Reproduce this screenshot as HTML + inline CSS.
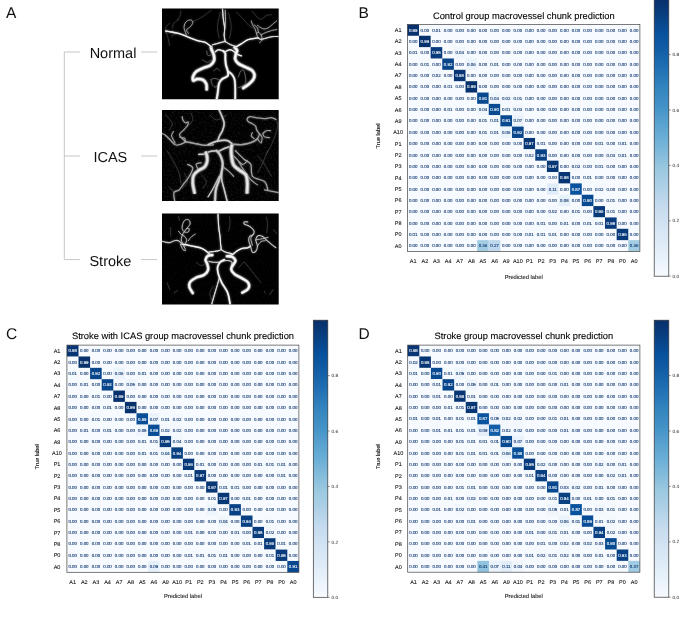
<!DOCTYPE html>
<html lang="en"><head><meta charset="utf-8"><title>Macrovessel chunk prediction</title>
<style>html,body{margin:0;padding:0;background:#fff}body{width:685px;height:644px;overflow:hidden}svg{display:block;text-rendering:geometricPrecision}</style></head>
<body>
<svg width="685" height="644" viewBox="0 0 685 644" font-family="'Liberation Sans', Arial, sans-serif">
<defs><linearGradient id="blues" x1="0" y1="0" x2="0" y2="1"><stop offset="0" stop-color="#08306b"/><stop offset="0.03" stop-color="#083776"/><stop offset="0.06" stop-color="#084082"/><stop offset="0.09" stop-color="#08488e"/><stop offset="0.12" stop-color="#08509b"/><stop offset="0.16" stop-color="#0e58a2"/><stop offset="0.19" stop-color="#1460a8"/><stop offset="0.22" stop-color="#1a68ae"/><stop offset="0.25" stop-color="#2070b4"/><stop offset="0.28" stop-color="#2979b9"/><stop offset="0.31" stop-color="#3181bd"/><stop offset="0.34" stop-color="#3989c1"/><stop offset="0.38" stop-color="#4191c6"/><stop offset="0.41" stop-color="#4b98ca"/><stop offset="0.44" stop-color="#56a0ce"/><stop offset="0.47" stop-color="#60a7d2"/><stop offset="0.5" stop-color="#6aaed6"/><stop offset="0.53" stop-color="#77b5d9"/><stop offset="0.56" stop-color="#84bcdb"/><stop offset="0.59" stop-color="#91c3de"/><stop offset="0.62" stop-color="#9dcae1"/><stop offset="0.66" stop-color="#a8cee4"/><stop offset="0.69" stop-color="#b2d2e8"/><stop offset="0.72" stop-color="#bcd7eb"/><stop offset="0.75" stop-color="#c6dbef"/><stop offset="0.78" stop-color="#ccdff1"/><stop offset="0.81" stop-color="#d2e3f3"/><stop offset="0.84" stop-color="#d8e7f5"/><stop offset="0.88" stop-color="#deebf7"/><stop offset="0.91" stop-color="#e4eff9"/><stop offset="0.94" stop-color="#eaf3fb"/><stop offset="0.97" stop-color="#f1f7fd"/><stop offset="1" stop-color="#f7fbff"/></linearGradient><filter id="bl" x="-5%" y="-5%" width="110%" height="110%"><feGaussianBlur stdDeviation="0.5"/></filter><filter id="bl2" x="-5%" y="-5%" width="110%" height="110%"><feGaussianBlur stdDeviation="0.8"/></filter></defs>
<rect width="685" height="644" fill="#fff"/>
<g id="panelA">
<text x="6" y="18" font-size="15.5" fill="#111">A</text>
<path d="M80 52H64.3V259.6H80M64.3 156H80M141 52h16M141 156h16M141 259.6h16" fill="none" stroke="#b8b8b8" stroke-width="0.8"/>
<g font-size="14.5" fill="#111" text-anchor="middle"><text x="113" y="58.2">Normal</text><text x="110.3" y="162.2">ICAS</text><text x="110.4" y="265.8">Stroke</text></g>
<clipPath id="cpA"><path d="M162 8.5h116.7v90.7h-116.7zM162 109.9h116.7v91.1h-116.7zM162 213.5h116.7v91.1h-116.7z"/></clipPath><path d="M162 8.5h116.7v90.7h-116.7zM162 109.9h116.7v91.1h-116.7zM162 213.5h116.7v91.1h-116.7z" fill="#000"/><filter id="nz" x="0" y="0" width="100%" height="100%"><feTurbulence type="fractalNoise" baseFrequency="0.55" numOctaves="2" seed="7"/><feColorMatrix type="matrix" values="0 0 0 0 1  0 0 0 0 1  0 0 0 0 1  1.6 0 0 0 -0.72"/></filter><rect x="162" y="109.9" width="116.7" height="91.1" filter="url(#nz)" opacity="0.13"/><rect x="162" y="213.5" width="116.7" height="91.1" filter="url(#nz)" opacity="0.05"/><g clip-path="url(#cpA)"><use href="#vs" filter="url(#bl2)" opacity="0.55"/><g id="vs" fill="none" stroke-linecap="round" stroke-linejoin="round" filter="url(#bl)"><g transform="translate(180 30) scale(0.12407)"><g stroke="#8a8a8a"><path d="M250 400C252 407 253 430 260 440C267 450 280 465 290 460C300 455 322 422 320 410C318 398 292 392 280 390C268 388 255 398 250 400M470 380C473 372 482 338 490 330C498 322 508 318 515 330C522 342 529 382 530 400C531 418 530 429 520 440C510 451 478 461 470 465M215 170C217 176 219 200 225 205C231 210 246 201 250 200" stroke-width="5"/><path d="M180 240C187 243 208 260 220 260C232 260 245 243 250 240M270 330C275 327 292 310 300 310C308 310 317 327 320 330" stroke-width="4"/></g><g stroke="#9a9a9a"><path d="M215 478C214 471 217 448 212 435C207 422 197 409 185 402C173 395 153 394 140 395C127 396 114 411 108 408C102 405 101 387 105 375C109 363 116 347 130 335C144 323 171 313 190 305C209 297 231 295 245 285C259 275 270 259 275 245C280 231 275 214 272 200C269 186 259 170 255 160C251 150 251 143 250 140M510 468C517 463 537 451 550 440C563 429 582 413 590 400C598 387 602 372 600 360C598 348 592 335 580 325C568 315 548 309 530 300C512 291 484 281 470 270C456 259 448 248 445 235C442 222 448 207 450 195C452 183 462 174 460 165C458 156 443 144 440 140" stroke-width="29"/><path d="M295 560C297 550 302 522 305 500C308 478 309 448 315 430C321 412 328 405 340 395C352 385 378 381 385 370C392 359 388 345 385 330C382 315 373 297 370 280C367 263 366 245 365 230C364 215 368 200 365 190C362 180 352 173 350 170" stroke-width="20"/><path d="M445 560C445 545 446 497 445 470C444 443 444 418 440 400C436 382 428 371 420 360C412 349 395 339 390 335" stroke-width="18"/><path d="M350 170C343 168 321 159 310 160C299 161 289 172 285 175M365 175C371 172 389 161 400 160C411 159 418 163 430 170C442 177 459 194 470 200C481 206 491 207 495 208" stroke-width="12"/></g><g stroke="#e8e8e8"><path d="M215 478C214 471 217 448 212 435C207 422 197 409 185 402C173 395 153 394 140 395C127 396 114 411 108 408C102 405 101 387 105 375C109 363 116 347 130 335C144 323 171 313 190 305C209 297 231 295 245 285C259 275 270 259 275 245C280 231 275 214 272 200C269 186 259 170 255 160C251 150 251 143 250 140M510 468C517 463 537 451 550 440C563 429 582 413 590 400C598 387 602 372 600 360C598 348 592 335 580 325C568 315 548 309 530 300C512 291 484 281 470 270C456 259 448 248 445 235C442 222 448 207 450 195C452 183 462 174 460 165C458 156 443 144 440 140" stroke-width="19.7"/><path d="M295 560C297 550 302 522 305 500C308 478 309 448 315 430C321 412 328 405 340 395C352 385 378 381 385 370C392 359 388 345 385 330C382 315 373 297 370 280C367 263 366 245 365 230C364 215 368 200 365 190C362 180 352 173 350 170" stroke-width="13.6"/><path d="M445 560C445 545 446 497 445 470C444 443 444 418 440 400C436 382 428 371 420 360C412 349 395 339 390 335" stroke-width="12.2"/><path d="M350 170C343 168 321 159 310 160C299 161 289 172 285 175M365 175C371 172 389 161 400 160C411 159 418 163 430 170C442 177 459 194 470 200C481 206 491 207 495 208" stroke-width="8.2"/></g><g stroke="#fff"><path d="M215 478C214 471 217 448 212 435C207 422 197 409 185 402C173 395 153 394 140 395C127 396 114 411 108 408C102 405 101 387 105 375C109 363 116 347 130 335C144 323 171 313 190 305C209 297 231 295 245 285C259 275 270 259 275 245C280 231 275 214 272 200C269 186 259 170 255 160C251 150 251 143 250 140M510 468C517 463 537 451 550 440C563 429 582 413 590 400C598 387 602 372 600 360C598 348 592 335 580 325C568 315 548 309 530 300C512 291 484 281 470 270C456 259 448 248 445 235C442 222 448 207 450 195C452 183 462 174 460 165C458 156 443 144 440 140" stroke-width="8.7"/><path d="M295 560C297 550 302 522 305 500C308 478 309 448 315 430C321 412 328 405 340 395C352 385 378 381 385 370C392 359 388 345 385 330C382 315 373 297 370 280C367 263 366 245 365 230C364 215 368 200 365 190C362 180 352 173 350 170" stroke-width="6"/><path d="M445 560C445 545 446 497 445 470C444 443 444 418 440 400C436 382 428 371 420 360C412 349 395 339 390 335" stroke-width="5.4"/><path d="M350 170C343 168 321 159 310 160C299 161 289 172 285 175M365 175C371 172 389 161 400 160C411 159 418 163 430 170C442 177 459 194 470 200C481 206 491 207 495 208" stroke-width="3.6"/></g></g><g transform="translate(162 6) scale(0.17079)"><g stroke="#6a6a6a"><path d="M180 92C187 89 210 79 222 72C234 65 244 58 255 50C266 42 282 29 288 25M22 147C24 152 29 164 33 178C37 192 42 224 44 233M60 153C62 155 73 163 72 167C71 171 58 176 55 178M44 100C40 105 25 118 22 128C19 138 24 155 25 160M100 80C95 83 77 92 70 100C63 108 62 125 60 130M436 36C442 42 460 59 472 72C484 85 498 104 508 113C518 122 526 126 529 128M529 31C534 37 550 59 559 67C568 75 571 79 580 77C589 75 601 60 611 56C621 52 636 52 641 51M340 40C338 53 326 95 325 120C324 145 333 178 335 190M390 40C392 53 404 95 405 120C406 145 397 178 395 190M110 30C109 35 108 52 105 60C102 68 92 77 90 80" stroke-width="2.5"/></g><g stroke="#b8b8b8"><path d="M144 172C142 166 132 144 130 133C128 122 130 113 133 105C136 97 142 90 149 86C156 82 167 81 172 83C177 85 181 90 180 97C179 104 172 115 166 122C160 129 146 132 144 139C142 146 153 157 155 161M564 187C562 183 554 170 554 164C554 158 560 153 564 154C568 155 576 161 580 169C584 177 587 192 585 200C583 208 572 212 570 215M554 164C552 159 548 142 544 133C540 124 532 116 529 108C526 100 524 90 523 87M564 154C563 150 563 135 559 128C555 121 542 113 539 110M580 169C585 166 601 158 611 154C621 150 631 147 641 144C651 141 667 139 672 138M559 113C564 116 580 130 590 133C600 136 611 133 621 128C631 123 644 110 652 103C660 96 669 90 672 87" stroke-width="5"/><path d="M370 25C370 34 372 60 372 77C372 94 370 120 370 128" stroke-width="5.5"/></g><g stroke="#9a9a9a"><path d="M290 240C284 236 267 220 255 214C243 208 229 209 216 205C203 201 189 196 177 192C165 188 157 183 144 178C131 173 113 165 99 161C85 157 73 155 60 153C47 151 28 148 22 147M432 240C438 237 455 227 467 220C479 213 491 202 503 197C515 192 529 192 539 190C549 188 560 188 564 187" stroke-width="9"/><path d="M564 187C567 188 570 195 580 195C590 195 609 188 621 185C633 182 642 180 652 179C662 178 677 179 682 179" stroke-width="6"/><path d="M296 227C301 226 317 222 327 219C337 216 348 213 355 211C362 209 368 208 370 208M370 208C375 211 389 221 400 226C411 231 430 236 436 238M354 15C355 25 357 58 359 77C361 96 366 113 367 128C368 143 364 156 364 169C364 182 369 202 370 208" stroke-width="6.5"/></g><g stroke="#f0f0f0"><path d="M290 240C284 236 267 220 255 214C243 208 229 209 216 205C203 201 189 196 177 192C165 188 157 183 144 178C131 173 113 165 99 161C85 157 73 155 60 153C47 151 28 148 22 147M432 240C438 237 455 227 467 220C479 213 491 202 503 197C515 192 529 192 539 190C549 188 560 188 564 187" stroke-width="6.1"/><path d="M564 187C567 188 570 195 580 195C590 195 609 188 621 185C633 182 642 180 652 179C662 178 677 179 682 179" stroke-width="4.1"/><path d="M296 227C301 226 317 222 327 219C337 216 348 213 355 211C362 209 368 208 370 208M370 208C375 211 389 221 400 226C411 231 430 236 436 238M354 15C355 25 357 58 359 77C361 96 366 113 367 128C368 143 364 156 364 169C364 182 369 202 370 208" stroke-width="4.4"/></g><g stroke="#fff"><path d="M290 240C284 236 267 220 255 214C243 208 229 209 216 205C203 201 189 196 177 192C165 188 157 183 144 178C131 173 113 165 99 161C85 157 73 155 60 153C47 151 28 148 22 147M432 240C438 237 455 227 467 220C479 213 491 202 503 197C515 192 529 192 539 190C549 188 560 188 564 187" stroke-width="2.7"/><path d="M564 187C567 188 570 195 580 195C590 195 609 188 621 185C633 182 642 180 652 179C662 178 677 179 682 179" stroke-width="1.8"/><path d="M296 227C301 226 317 222 327 219C337 216 348 213 355 211C362 209 368 208 370 208M370 208C375 211 389 221 400 226C411 231 430 236 436 238M354 15C355 25 357 58 359 77C361 96 366 113 367 128C368 143 364 156 364 169C364 182 369 202 370 208" stroke-width="1.9"/></g></g><g transform="translate(162 108) scale(0.17079)"><g stroke="#5a5a5a"><path d="M30 250C35 258 48 278 60 300C72 322 92 357 100 380C108 403 108 430 110 440M620 250C615 262 600 298 590 320C580 342 565 370 560 380M667 67C669 75 681 88 677 113C673 138 652 189 641 215C630 241 616 258 611 267M280 40C287 45 303 70 320 70C337 70 370 45 380 40M230 390C235 397 258 417 260 430C262 443 243 463 240 470M20 40C27 48 57 75 60 90C63 105 43 123 40 130M170 30C172 37 183 57 180 70C177 83 155 103 150 110M130 380C133 388 152 415 150 430C148 445 125 463 120 470M40 460L70 495M560 280C567 288 587 310 600 330C613 350 633 388 640 400" stroke-width="3"/></g><g stroke="#a0a0a0"><path d="M300 215C291 216 262 219 246 218C230 217 218 212 205 210C192 208 181 205 169 203C157 201 139 198 133 197M410 212C419 212 446 216 462 215C478 214 490 211 503 208C516 205 530 200 539 195C548 190 556 182 559 179" stroke-width="9.5"/><path d="M138 200C132 202 113 212 103 215C93 218 86 219 77 215C68 211 60 199 51 190C42 181 28 166 20 159C12 152 3 151 0 149M559 179C561 175 571 162 570 154C569 146 558 136 554 128C550 120 553 114 549 108C545 102 536 96 529 92C522 88 513 86 508 82C503 78 497 72 498 67C499 62 504 53 513 51C522 49 534 54 549 56C564 58 585 62 600 62C615 62 630 55 641 56C652 57 663 65 667 67M430 250C438 258 465 287 480 300C495 313 512 313 520 330C528 347 517 383 530 400C543 417 585 417 600 430C615 443 617 472 620 480M600 480L690 497M150 330C155 333 178 338 180 350C182 362 168 385 160 400C152 415 140 427 130 440C120 453 110 471 100 480C90 489 74 483 70 495C66 507 74 541 75 550" stroke-width="7.5"/><path d="M138 195C134 192 119 181 113 174C107 167 100 162 103 154C106 146 120 136 128 128C136 120 145 111 149 103C153 95 156 85 154 82C152 79 143 89 138 87C133 85 126 78 123 72C120 66 119 54 118 51" stroke-width="7"/><path d="M138 195C137 192 136 180 133 177C130 174 125 175 120 174C115 173 106 171 103 170M67 138C65 142 54 153 56 164C58 175 74 198 77 205M559 179C562 183 576 207 580 205C584 203 587 178 585 169C583 160 572 152 570 149M529 144C528 147 521 158 523 164C525 170 536 176 539 179M590 149C594 146 603 136 611 133C619 130 632 133 636 133M590 149C592 152 593 165 600 169C607 173 626 173 631 174M350 340C357 345 378 360 390 370C402 380 415 395 420 400M420 280C428 288 457 325 470 330C483 335 495 313 500 310M215 365C212 359 198 338 200 330C202 322 225 322 230 320M440 300C445 308 457 330 470 350C483 370 505 403 520 420C535 437 553 445 560 450" stroke-width="6.5"/></g><g stroke="#808080"><path d="M310 560C311 547 311 503 315 480C319 457 329 438 335 420C341 402 347 387 350 370C353 353 357 336 355 320C353 304 346 287 340 275C334 263 323 254 320 250" stroke-width="16"/><path d="M215 272L265 270M320 250C313 251 292 252 280 255C268 258 255 268 250 270M330 255C337 252 358 240 370 235C382 230 395 227 400 225M385 560C382 547 371 503 365 480C359 457 352 437 350 420C348 403 350 387 350 380" stroke-width="10"/><path d="M270 520C275 512 289 490 300 470C311 450 329 412 335 400" stroke-width="8"/><path d="M270 215C278 212 302 199 320 195C338 191 365 188 380 190C395 192 405 207 410 210" stroke-width="12"/><path d="M334 10C337 18 349 42 354 56C359 70 364 79 364 92C364 105 358 122 354 133C350 144 344 149 339 159C334 169 327 189 325 195" stroke-width="11"/></g><g stroke="#c0c0c0"><path d="M310 560C311 547 311 503 315 480C319 457 329 438 335 420C341 402 347 387 350 370C353 353 357 336 355 320C353 304 346 287 340 275C334 263 323 254 320 250" stroke-width="10.9"/><path d="M215 272L265 270M320 250C313 251 292 252 280 255C268 258 255 268 250 270M330 255C337 252 358 240 370 235C382 230 395 227 400 225M385 560C382 547 371 503 365 480C359 457 352 437 350 420C348 403 350 387 350 380" stroke-width="6.8"/><path d="M270 520C275 512 289 490 300 470C311 450 329 412 335 400" stroke-width="5.4"/><path d="M270 215C278 212 302 199 320 195C338 191 365 188 380 190C395 192 405 207 410 210" stroke-width="8.2"/><path d="M334 10C337 18 349 42 354 56C359 70 364 79 364 92C364 105 358 122 354 133C350 144 344 149 339 159C334 169 327 189 325 195" stroke-width="7.5"/></g><g stroke="#d8d8d8"><path d="M310 560C311 547 311 503 315 480C319 457 329 438 335 420C341 402 347 387 350 370C353 353 357 336 355 320C353 304 346 287 340 275C334 263 323 254 320 250" stroke-width="4.8"/><path d="M215 272L265 270M320 250C313 251 292 252 280 255C268 258 255 268 250 270M330 255C337 252 358 240 370 235C382 230 395 227 400 225M385 560C382 547 371 503 365 480C359 457 352 437 350 420C348 403 350 387 350 380" stroke-width="3"/><path d="M270 520C275 512 289 490 300 470C311 450 329 412 335 400" stroke-width="2.4"/><path d="M270 215C278 212 302 199 320 195C338 191 365 188 380 190C395 192 405 207 410 210" stroke-width="3.6"/><path d="M334 10C337 18 349 42 354 56C359 70 364 79 364 92C364 105 358 122 354 133C350 144 344 149 339 159C334 169 327 189 325 195" stroke-width="3.3"/></g><g stroke="#888" stroke-linecap="butt"><path d="M192 502C190 492 181 458 180 440C179 422 179 408 185 395C191 382 204 373 215 365C226 357 242 354 250 345C258 336 263 322 265 310C267 298 264 284 262 275C260 266 256 258 255 255" stroke-width="23"/><path d="M498 500C498 490 501 458 500 440C499 422 498 402 490 390C482 378 467 374 455 365C443 356 428 348 420 335C412 322 410 306 408 290C406 274 405 252 405 240C405 228 409 219 410 215" stroke-width="25"/></g><g stroke="#cfcfcf" stroke-linecap="butt"><path d="M192 502C190 492 181 458 180 440C179 422 179 408 185 395C191 382 204 373 215 365C226 357 242 354 250 345C258 336 263 322 265 310C267 298 264 284 262 275C260 266 256 258 255 255" stroke-width="15.6"/><path d="M498 500C498 490 501 458 500 440C499 422 498 402 490 390C482 378 467 374 455 365C443 356 428 348 420 335C412 322 410 306 408 290C406 274 405 252 405 240C405 228 409 219 410 215" stroke-width="17"/></g><g stroke="#eee" stroke-linecap="butt"><path d="M192 502C190 492 181 458 180 440C179 422 179 408 185 395C191 382 204 373 215 365C226 357 242 354 250 345C258 336 263 322 265 310C267 298 264 284 262 275C260 266 256 258 255 255" stroke-width="6.9"/><path d="M498 500C498 490 501 458 500 440C499 422 498 402 490 390C482 378 467 374 455 365C443 356 428 348 420 335C412 322 410 306 408 290C406 274 405 252 405 240C405 228 409 219 410 215" stroke-width="7.5"/></g></g><g transform="translate(162 211) scale(0.17079)"><g stroke="#6a6a6a"><path d="M395 31C396 39 399 62 398 77C397 92 391 111 390 118M611 36C612 43 618 62 618 77C618 92 614 120 613 128M652 108L672 133M500 320C507 328 527 353 540 370C553 387 573 412 580 420M300 440C297 447 282 467 280 480C278 493 288 513 290 520M51 97L51 149M97 31L103 56M200 300C205 303 220 320 230 320C240 320 255 303 260 300M450 330C455 325 472 302 480 300C488 298 497 317 500 320M30 420L45 460M600 470L604 480" stroke-width="2.5"/><path d="M650 460L630 490M70 480L90 465" stroke-width="3"/></g><g stroke="#c8c8c8"><path d="M118 195C114 192 105 178 97 174C89 170 80 172 72 174C64 176 55 184 46 185C37 186 28 183 20 182C12 181 3 178 0 177" stroke-width="7"/><path d="M128 205C126 199 114 181 113 169C112 157 118 144 123 133C128 122 137 112 144 103C151 94 162 85 164 77C166 69 163 58 159 54C155 50 144 48 138 51C132 54 126 63 123 72C120 81 116 94 118 103C120 112 127 120 133 123C139 126 150 126 154 123C158 120 161 106 159 103C157 100 146 103 144 103M128 205C131 200 143 183 144 174C145 165 138 155 133 149C128 143 119 143 113 138C107 133 100 121 97 118M128 205C130 209 139 228 138 231C137 234 128 232 123 226C118 220 110 200 108 195" stroke-width="5.5"/><path d="M154 174C157 170 167 155 174 149C181 143 192 138 195 136M549 169C554 168 568 166 580 164C592 162 614 156 621 154M559 205C562 201 572 184 580 179C588 174 601 175 605 174M534 138C532 142 521 150 520 160C519 170 528 193 530 200" stroke-width="5"/><path d="M518 205C516 200 509 183 508 174C507 165 509 155 513 149C517 143 530 143 534 138C538 133 541 125 539 118C537 111 529 102 523 97C517 92 510 88 503 85C496 82 486 80 482 77C478 74 478 66 482 64C486 62 500 64 503 64M518 205C520 211 524 236 529 241C534 246 544 242 549 236C554 230 559 216 559 205C559 194 548 179 549 169C550 159 557 147 564 144C571 141 582 145 590 149C598 153 602 161 611 169C620 177 632 187 641 195C650 203 663 212 667 215" stroke-width="6"/></g><g stroke="#9a9a9a"><path d="M180 480C177 474 162 456 160 445C158 434 158 424 165 415C172 406 187 397 200 390C213 383 233 382 245 375C257 368 267 356 270 345C273 334 268 320 265 310C262 300 254 293 255 285C256 277 263 266 270 262C277 258 291 259 295 258M470 478C476 474 499 465 505 455C511 445 511 430 505 420C499 410 483 403 470 395C457 387 436 379 425 370C414 361 406 350 405 340C404 330 416 318 420 310C424 302 432 297 430 290C428 283 418 272 410 268C402 264 385 266 380 265" stroke-width="19"/><path d="M400 555C398 542 393 502 385 480C377 458 359 438 350 420C341 402 334 385 330 370C326 355 323 342 325 330C327 318 333 308 340 300C347 292 361 288 365 285" stroke-width="12"/><path d="M277 250C272 246 256 232 246 226C236 220 227 216 215 213C203 210 187 208 174 205C161 202 147 199 138 197C129 195 121 195 118 195M385 262C389 261 402 260 411 256C420 252 427 242 436 236C445 230 456 224 467 220C478 216 494 218 503 215C512 212 516 207 518 205" stroke-width="9.5"/><path d="M290 550C293 538 304 500 310 480C316 460 321 444 325 430C329 416 333 401 335 395" stroke-width="6"/><path d="M340 300C333 300 311 301 300 300C289 299 279 296 275 295M345 295C352 294 374 289 385 290C396 291 407 295 410 300C413 305 406 317 405 320" stroke-width="5"/><path d="M275 240C282 239 308 238 320 235C332 232 341 232 345 225C349 218 344 208 343 195C342 182 342 165 340 150C338 135 335 118 333 103C331 88 331 77 330 62C329 47 328 23 328 15M345 225C349 228 359 236 370 240C381 244 403 248 410 250" stroke-width="7"/></g><g stroke="#efefef"><path d="M180 480C177 474 162 456 160 445C158 434 158 424 165 415C172 406 187 397 200 390C213 383 233 382 245 375C257 368 267 356 270 345C273 334 268 320 265 310C262 300 254 293 255 285C256 277 263 266 270 262C277 258 291 259 295 258M470 478C476 474 499 465 505 455C511 445 511 430 505 420C499 410 483 403 470 395C457 387 436 379 425 370C414 361 406 350 405 340C404 330 416 318 420 310C424 302 432 297 430 290C428 283 418 272 410 268C402 264 385 266 380 265" stroke-width="12.9"/><path d="M400 555C398 542 393 502 385 480C377 458 359 438 350 420C341 402 334 385 330 370C326 355 323 342 325 330C327 318 333 308 340 300C347 292 361 288 365 285" stroke-width="8.2"/><path d="M277 250C272 246 256 232 246 226C236 220 227 216 215 213C203 210 187 208 174 205C161 202 147 199 138 197C129 195 121 195 118 195M385 262C389 261 402 260 411 256C420 252 427 242 436 236C445 230 456 224 467 220C478 216 494 218 503 215C512 212 516 207 518 205" stroke-width="6.5"/><path d="M290 550C293 538 304 500 310 480C316 460 321 444 325 430C329 416 333 401 335 395" stroke-width="4.1"/><path d="M340 300C333 300 311 301 300 300C289 299 279 296 275 295M345 295C352 294 374 289 385 290C396 291 407 295 410 300C413 305 406 317 405 320" stroke-width="3.4"/><path d="M275 240C282 239 308 238 320 235C332 232 341 232 345 225C349 218 344 208 343 195C342 182 342 165 340 150C338 135 335 118 333 103C331 88 331 77 330 62C329 47 328 23 328 15M345 225C349 228 359 236 370 240C381 244 403 248 410 250" stroke-width="4.8"/></g><g stroke="#fff"><path d="M180 480C177 474 162 456 160 445C158 434 158 424 165 415C172 406 187 397 200 390C213 383 233 382 245 375C257 368 267 356 270 345C273 334 268 320 265 310C262 300 254 293 255 285C256 277 263 266 270 262C277 258 291 259 295 258M470 478C476 474 499 465 505 455C511 445 511 430 505 420C499 410 483 403 470 395C457 387 436 379 425 370C414 361 406 350 405 340C404 330 416 318 420 310C424 302 432 297 430 290C428 283 418 272 410 268C402 264 385 266 380 265" stroke-width="5.7"/><path d="M400 555C398 542 393 502 385 480C377 458 359 438 350 420C341 402 334 385 330 370C326 355 323 342 325 330C327 318 333 308 340 300C347 292 361 288 365 285" stroke-width="3.6"/><path d="M277 250C272 246 256 232 246 226C236 220 227 216 215 213C203 210 187 208 174 205C161 202 147 199 138 197C129 195 121 195 118 195M385 262C389 261 402 260 411 256C420 252 427 242 436 236C445 230 456 224 467 220C478 216 494 218 503 215C512 212 516 207 518 205" stroke-width="2.9"/><path d="M290 550C293 538 304 500 310 480C316 460 321 444 325 430C329 416 333 401 335 395" stroke-width="1.8"/><path d="M340 300C333 300 311 301 300 300C289 299 279 296 275 295M345 295C352 294 374 289 385 290C396 291 407 295 410 300C413 305 406 317 405 320" stroke-width="1.5"/><path d="M275 240C282 239 308 238 320 235C332 232 341 232 345 225C349 218 344 208 343 195C342 182 342 165 340 150C338 135 335 118 333 103C331 88 331 77 330 62C329 47 328 23 328 15M345 225C349 228 359 236 370 240C381 244 403 248 410 250" stroke-width="2.1"/></g></g></g></g>
</g>
<g id="panelB">
<rect x="407.4" y="24.4" width="232.5" height="227.1" fill="#f7fbff"/>
<rect x="407.4" y="24.4" width="11.62" height="11.36" fill="#08326e"/>
<rect x="430.65" y="24.4" width="11.62" height="11.36" fill="#f5fafe"/>
<rect x="419.02" y="35.75" width="11.62" height="11.36" fill="#08326e"/>
<rect x="407.4" y="47.11" width="11.62" height="11.36" fill="#f5fafe"/>
<rect x="430.65" y="47.11" width="11.62" height="11.36" fill="#083c7d"/>
<rect x="453.9" y="47.11" width="11.62" height="11.36" fill="#eff6fc"/>
<rect x="419.02" y="58.46" width="11.62" height="11.36" fill="#f5fafe"/>
<rect x="442.27" y="58.46" width="11.62" height="11.36" fill="#08458a"/>
<rect x="465.52" y="58.46" width="11.62" height="11.36" fill="#ebf3fb"/>
<rect x="488.77" y="58.46" width="11.62" height="11.36" fill="#f5fafe"/>
<rect x="430.65" y="69.82" width="11.62" height="11.36" fill="#f3f8fe"/>
<rect x="453.9" y="69.82" width="11.62" height="11.36" fill="#083573"/>
<rect x="442.27" y="81.18" width="11.62" height="11.36" fill="#f5fafe"/>
<rect x="465.52" y="81.18" width="11.62" height="11.36" fill="#08326e"/>
<rect x="477.15" y="92.53" width="11.62" height="11.36" fill="#08488e"/>
<rect x="488.77" y="92.53" width="11.62" height="11.36" fill="#eff6fc"/>
<rect x="500.4" y="92.53" width="11.62" height="11.36" fill="#f3f8fe"/>
<rect x="512.02" y="92.53" width="11.62" height="11.36" fill="#f5fafe"/>
<rect x="442.27" y="103.88" width="11.62" height="11.36" fill="#f5fafe"/>
<rect x="477.15" y="103.88" width="11.62" height="11.36" fill="#eff6fc"/>
<rect x="488.77" y="103.88" width="11.62" height="11.36" fill="#084a91"/>
<rect x="500.4" y="103.88" width="11.62" height="11.36" fill="#f5fafe"/>
<rect x="512.02" y="103.88" width="11.62" height="11.36" fill="#f2f7fd"/>
<rect x="477.15" y="115.24" width="11.62" height="11.36" fill="#f5fafe"/>
<rect x="488.77" y="115.24" width="11.62" height="11.36" fill="#f5fafe"/>
<rect x="500.4" y="115.24" width="11.62" height="11.36" fill="#08488e"/>
<rect x="512.02" y="115.24" width="11.62" height="11.36" fill="#eaf2fb"/>
<rect x="477.15" y="126.59" width="11.62" height="11.36" fill="#f5fafe"/>
<rect x="488.77" y="126.59" width="11.62" height="11.36" fill="#f5fafe"/>
<rect x="500.4" y="126.59" width="11.62" height="11.36" fill="#ebf3fb"/>
<rect x="512.02" y="126.59" width="11.62" height="11.36" fill="#08458a"/>
<rect x="523.65" y="137.95" width="11.62" height="11.36" fill="#083776"/>
<rect x="535.27" y="137.95" width="11.62" height="11.36" fill="#f5fafe"/>
<rect x="593.4" y="137.95" width="11.62" height="11.36" fill="#f5fafe"/>
<rect x="616.65" y="137.95" width="11.62" height="11.36" fill="#f5fafe"/>
<rect x="523.65" y="149.31" width="11.62" height="11.36" fill="#f3f8fe"/>
<rect x="535.27" y="149.31" width="11.62" height="11.36" fill="#084285"/>
<rect x="605.02" y="149.31" width="11.62" height="11.36" fill="#f2f7fd"/>
<rect x="616.65" y="149.31" width="11.62" height="11.36" fill="#f5fafe"/>
<rect x="546.9" y="160.66" width="11.62" height="11.36" fill="#083776"/>
<rect x="570.15" y="160.66" width="11.62" height="11.36" fill="#f3f8fe"/>
<rect x="593.4" y="160.66" width="11.62" height="11.36" fill="#f5fafe"/>
<rect x="558.52" y="172.02" width="11.62" height="11.36" fill="#083573"/>
<rect x="581.77" y="172.02" width="11.62" height="11.36" fill="#f5fafe"/>
<rect x="546.9" y="183.37" width="11.62" height="11.36" fill="#e1edf8"/>
<rect x="570.15" y="183.37" width="11.62" height="11.36" fill="#09529d"/>
<rect x="593.4" y="183.37" width="11.62" height="11.36" fill="#f3f8fe"/>
<rect x="558.52" y="194.73" width="11.62" height="11.36" fill="#e7f1fa"/>
<rect x="581.77" y="194.73" width="11.62" height="11.36" fill="#084a91"/>
<rect x="605.02" y="194.73" width="11.62" height="11.36" fill="#f5fafe"/>
<rect x="546.9" y="206.08" width="11.62" height="11.36" fill="#f3f8fe"/>
<rect x="570.15" y="206.08" width="11.62" height="11.36" fill="#f5fafe"/>
<rect x="593.4" y="206.08" width="11.62" height="11.36" fill="#083a7a"/>
<rect x="605.02" y="206.08" width="11.62" height="11.36" fill="#f5fafe"/>
<rect x="535.27" y="217.44" width="11.62" height="11.36" fill="#f5fafe"/>
<rect x="558.52" y="217.44" width="11.62" height="11.36" fill="#f5fafe"/>
<rect x="581.77" y="217.44" width="11.62" height="11.36" fill="#f5fafe"/>
<rect x="593.4" y="217.44" width="11.62" height="11.36" fill="#f5fafe"/>
<rect x="605.02" y="217.44" width="11.62" height="11.36" fill="#083c7d"/>
<rect x="407.4" y="228.79" width="11.62" height="11.36" fill="#f5fafe"/>
<rect x="523.65" y="228.79" width="11.62" height="11.36" fill="#f5fafe"/>
<rect x="535.27" y="228.79" width="11.62" height="11.36" fill="#f5fafe"/>
<rect x="546.9" y="228.79" width="11.62" height="11.36" fill="#f5fafe"/>
<rect x="616.65" y="228.79" width="11.62" height="11.36" fill="#083a7a"/>
<rect x="477.15" y="240.15" width="11.62" height="11.36" fill="#a3cce3"/>
<rect x="488.77" y="240.15" width="11.62" height="11.36" fill="#bfd8ed"/>
<rect x="628.27" y="240.15" width="11.62" height="11.36" fill="#a3cce3"/>
<rect x="407.4" y="24.4" width="232.5" height="227.1" fill="none" stroke="#444" stroke-width="0.7"/>
<g font-size="4.35" text-anchor="middle" fill="#08306b" stroke="#08306b" stroke-width="0.1">
<text y="31.64"><tspan x="413.21" fill="#f7fbff" stroke="#f7fbff">0.99</tspan><tspan x="424.84">0.00</tspan><tspan x="436.46">0.01</tspan><tspan x="448.09">0.00</tspan><tspan x="459.71">0.00</tspan><tspan x="471.34">0.00</tspan><tspan x="482.96">0.00</tspan><tspan x="494.59">0.00</tspan><tspan x="506.21">0.00</tspan><tspan x="517.84">0.00</tspan><tspan x="529.46">0.00</tspan><tspan x="541.09">0.00</tspan><tspan x="552.71">0.00</tspan><tspan x="564.34">0.00</tspan><tspan x="575.96">0.00</tspan><tspan x="587.59">0.00</tspan><tspan x="599.21">0.00</tspan><tspan x="610.84">0.00</tspan><tspan x="622.46">0.00</tspan><tspan x="634.09">0.00</tspan></text>
<text y="43"><tspan x="413.21">0.00</tspan><tspan x="424.84" fill="#f7fbff" stroke="#f7fbff">0.99</tspan><tspan x="436.46">0.00</tspan><tspan x="448.09">0.00</tspan><tspan x="459.71">0.00</tspan><tspan x="471.34">0.00</tspan><tspan x="482.96">0.00</tspan><tspan x="494.59">0.00</tspan><tspan x="506.21">0.00</tspan><tspan x="517.84">0.00</tspan><tspan x="529.46">0.00</tspan><tspan x="541.09">0.00</tspan><tspan x="552.71">0.00</tspan><tspan x="564.34">0.00</tspan><tspan x="575.96">0.00</tspan><tspan x="587.59">0.00</tspan><tspan x="599.21">0.00</tspan><tspan x="610.84">0.00</tspan><tspan x="622.46">0.00</tspan><tspan x="634.09">0.00</tspan></text>
<text y="54.35"><tspan x="413.21">0.01</tspan><tspan x="424.84">0.00</tspan><tspan x="436.46" fill="#f7fbff" stroke="#f7fbff">0.95</tspan><tspan x="448.09">0.00</tspan><tspan x="459.71">0.04</tspan><tspan x="471.34">0.00</tspan><tspan x="482.96">0.00</tspan><tspan x="494.59">0.00</tspan><tspan x="506.21">0.00</tspan><tspan x="517.84">0.00</tspan><tspan x="529.46">0.00</tspan><tspan x="541.09">0.00</tspan><tspan x="552.71">0.00</tspan><tspan x="564.34">0.00</tspan><tspan x="575.96">0.00</tspan><tspan x="587.59">0.00</tspan><tspan x="599.21">0.00</tspan><tspan x="610.84">0.00</tspan><tspan x="622.46">0.00</tspan><tspan x="634.09">0.00</tspan></text>
<text y="65.71"><tspan x="413.21">0.00</tspan><tspan x="424.84">0.01</tspan><tspan x="436.46">0.00</tspan><tspan x="448.09" fill="#f7fbff" stroke="#f7fbff">0.92</tspan><tspan x="459.71">0.00</tspan><tspan x="471.34">0.06</tspan><tspan x="482.96">0.00</tspan><tspan x="494.59">0.01</tspan><tspan x="506.21">0.00</tspan><tspan x="517.84">0.00</tspan><tspan x="529.46">0.00</tspan><tspan x="541.09">0.00</tspan><tspan x="552.71">0.00</tspan><tspan x="564.34">0.00</tspan><tspan x="575.96">0.00</tspan><tspan x="587.59">0.00</tspan><tspan x="599.21">0.00</tspan><tspan x="610.84">0.00</tspan><tspan x="622.46">0.00</tspan><tspan x="634.09">0.00</tspan></text>
<text y="77.06"><tspan x="413.21">0.00</tspan><tspan x="424.84">0.00</tspan><tspan x="436.46">0.02</tspan><tspan x="448.09">0.00</tspan><tspan x="459.71" fill="#f7fbff" stroke="#f7fbff">0.98</tspan><tspan x="471.34">0.00</tspan><tspan x="482.96">0.00</tspan><tspan x="494.59">0.00</tspan><tspan x="506.21">0.00</tspan><tspan x="517.84">0.00</tspan><tspan x="529.46">0.00</tspan><tspan x="541.09">0.00</tspan><tspan x="552.71">0.00</tspan><tspan x="564.34">0.00</tspan><tspan x="575.96">0.00</tspan><tspan x="587.59">0.00</tspan><tspan x="599.21">0.00</tspan><tspan x="610.84">0.00</tspan><tspan x="622.46">0.00</tspan><tspan x="634.09">0.00</tspan></text>
<text y="88.42"><tspan x="413.21">0.00</tspan><tspan x="424.84">0.00</tspan><tspan x="436.46">0.00</tspan><tspan x="448.09">0.01</tspan><tspan x="459.71">0.00</tspan><tspan x="471.34" fill="#f7fbff" stroke="#f7fbff">0.99</tspan><tspan x="482.96">0.00</tspan><tspan x="494.59">0.00</tspan><tspan x="506.21">0.00</tspan><tspan x="517.84">0.00</tspan><tspan x="529.46">0.00</tspan><tspan x="541.09">0.00</tspan><tspan x="552.71">0.00</tspan><tspan x="564.34">0.00</tspan><tspan x="575.96">0.00</tspan><tspan x="587.59">0.00</tspan><tspan x="599.21">0.00</tspan><tspan x="610.84">0.00</tspan><tspan x="622.46">0.00</tspan><tspan x="634.09">0.00</tspan></text>
<text y="99.77"><tspan x="413.21">0.00</tspan><tspan x="424.84">0.00</tspan><tspan x="436.46">0.00</tspan><tspan x="448.09">0.00</tspan><tspan x="459.71">0.00</tspan><tspan x="471.34">0.00</tspan><tspan x="482.96" fill="#f7fbff" stroke="#f7fbff">0.91</tspan><tspan x="494.59">0.04</tspan><tspan x="506.21">0.02</tspan><tspan x="517.84">0.01</tspan><tspan x="529.46">0.00</tspan><tspan x="541.09">0.00</tspan><tspan x="552.71">0.00</tspan><tspan x="564.34">0.00</tspan><tspan x="575.96">0.00</tspan><tspan x="587.59">0.00</tspan><tspan x="599.21">0.00</tspan><tspan x="610.84">0.00</tspan><tspan x="622.46">0.00</tspan><tspan x="634.09">0.00</tspan></text>
<text y="111.13"><tspan x="413.21">0.00</tspan><tspan x="424.84">0.00</tspan><tspan x="436.46">0.00</tspan><tspan x="448.09">0.01</tspan><tspan x="459.71">0.00</tspan><tspan x="471.34">0.00</tspan><tspan x="482.96">0.04</tspan><tspan x="494.59" fill="#f7fbff" stroke="#f7fbff">0.90</tspan><tspan x="506.21">0.01</tspan><tspan x="517.84">0.03</tspan><tspan x="529.46">0.00</tspan><tspan x="541.09">0.00</tspan><tspan x="552.71">0.00</tspan><tspan x="564.34">0.00</tspan><tspan x="575.96">0.00</tspan><tspan x="587.59">0.00</tspan><tspan x="599.21">0.00</tspan><tspan x="610.84">0.00</tspan><tspan x="622.46">0.00</tspan><tspan x="634.09">0.00</tspan></text>
<text y="122.48"><tspan x="413.21">0.00</tspan><tspan x="424.84">0.00</tspan><tspan x="436.46">0.00</tspan><tspan x="448.09">0.00</tspan><tspan x="459.71">0.00</tspan><tspan x="471.34">0.00</tspan><tspan x="482.96">0.01</tspan><tspan x="494.59">0.01</tspan><tspan x="506.21" fill="#f7fbff" stroke="#f7fbff">0.91</tspan><tspan x="517.84">0.07</tspan><tspan x="529.46">0.00</tspan><tspan x="541.09">0.00</tspan><tspan x="552.71">0.00</tspan><tspan x="564.34">0.00</tspan><tspan x="575.96">0.00</tspan><tspan x="587.59">0.00</tspan><tspan x="599.21">0.00</tspan><tspan x="610.84">0.00</tspan><tspan x="622.46">0.00</tspan><tspan x="634.09">0.00</tspan></text>
<text y="133.84"><tspan x="413.21">0.00</tspan><tspan x="424.84">0.00</tspan><tspan x="436.46">0.00</tspan><tspan x="448.09">0.00</tspan><tspan x="459.71">0.00</tspan><tspan x="471.34">0.00</tspan><tspan x="482.96">0.01</tspan><tspan x="494.59">0.01</tspan><tspan x="506.21">0.06</tspan><tspan x="517.84" fill="#f7fbff" stroke="#f7fbff">0.92</tspan><tspan x="529.46">0.00</tspan><tspan x="541.09">0.00</tspan><tspan x="552.71">0.00</tspan><tspan x="564.34">0.00</tspan><tspan x="575.96">0.00</tspan><tspan x="587.59">0.00</tspan><tspan x="599.21">0.00</tspan><tspan x="610.84">0.00</tspan><tspan x="622.46">0.00</tspan><tspan x="634.09">0.00</tspan></text>
<text y="145.19"><tspan x="413.21">0.00</tspan><tspan x="424.84">0.00</tspan><tspan x="436.46">0.00</tspan><tspan x="448.09">0.00</tspan><tspan x="459.71">0.00</tspan><tspan x="471.34">0.00</tspan><tspan x="482.96">0.00</tspan><tspan x="494.59">0.00</tspan><tspan x="506.21">0.00</tspan><tspan x="517.84">0.00</tspan><tspan x="529.46" fill="#f7fbff" stroke="#f7fbff">0.97</tspan><tspan x="541.09">0.01</tspan><tspan x="552.71">0.00</tspan><tspan x="564.34">0.00</tspan><tspan x="575.96">0.00</tspan><tspan x="587.59">0.00</tspan><tspan x="599.21">0.01</tspan><tspan x="610.84">0.00</tspan><tspan x="622.46">0.01</tspan><tspan x="634.09">0.00</tspan></text>
<text y="156.55"><tspan x="413.21">0.00</tspan><tspan x="424.84">0.00</tspan><tspan x="436.46">0.00</tspan><tspan x="448.09">0.00</tspan><tspan x="459.71">0.00</tspan><tspan x="471.34">0.00</tspan><tspan x="482.96">0.00</tspan><tspan x="494.59">0.00</tspan><tspan x="506.21">0.00</tspan><tspan x="517.84">0.00</tspan><tspan x="529.46">0.02</tspan><tspan x="541.09" fill="#f7fbff" stroke="#f7fbff">0.93</tspan><tspan x="552.71">0.00</tspan><tspan x="564.34">0.00</tspan><tspan x="575.96">0.00</tspan><tspan x="587.59">0.00</tspan><tspan x="599.21">0.00</tspan><tspan x="610.84">0.03</tspan><tspan x="622.46">0.01</tspan><tspan x="634.09">0.00</tspan></text>
<text y="167.9"><tspan x="413.21">0.00</tspan><tspan x="424.84">0.00</tspan><tspan x="436.46">0.00</tspan><tspan x="448.09">0.00</tspan><tspan x="459.71">0.00</tspan><tspan x="471.34">0.00</tspan><tspan x="482.96">0.00</tspan><tspan x="494.59">0.00</tspan><tspan x="506.21">0.00</tspan><tspan x="517.84">0.00</tspan><tspan x="529.46">0.00</tspan><tspan x="541.09">0.00</tspan><tspan x="552.71" fill="#f7fbff" stroke="#f7fbff">0.97</tspan><tspan x="564.34">0.00</tspan><tspan x="575.96">0.02</tspan><tspan x="587.59">0.00</tspan><tspan x="599.21">0.01</tspan><tspan x="610.84">0.00</tspan><tspan x="622.46">0.00</tspan><tspan x="634.09">0.00</tspan></text>
<text y="179.26"><tspan x="413.21">0.00</tspan><tspan x="424.84">0.00</tspan><tspan x="436.46">0.00</tspan><tspan x="448.09">0.00</tspan><tspan x="459.71">0.00</tspan><tspan x="471.34">0.00</tspan><tspan x="482.96">0.00</tspan><tspan x="494.59">0.00</tspan><tspan x="506.21">0.00</tspan><tspan x="517.84">0.00</tspan><tspan x="529.46">0.00</tspan><tspan x="541.09">0.00</tspan><tspan x="552.71">0.00</tspan><tspan x="564.34" fill="#f7fbff" stroke="#f7fbff">0.98</tspan><tspan x="575.96">0.00</tspan><tspan x="587.59">0.01</tspan><tspan x="599.21">0.00</tspan><tspan x="610.84">0.00</tspan><tspan x="622.46">0.00</tspan><tspan x="634.09">0.00</tspan></text>
<text y="190.61"><tspan x="413.21">0.00</tspan><tspan x="424.84">0.00</tspan><tspan x="436.46">0.00</tspan><tspan x="448.09">0.00</tspan><tspan x="459.71">0.00</tspan><tspan x="471.34">0.00</tspan><tspan x="482.96">0.00</tspan><tspan x="494.59">0.00</tspan><tspan x="506.21">0.00</tspan><tspan x="517.84">0.00</tspan><tspan x="529.46">0.00</tspan><tspan x="541.09">0.00</tspan><tspan x="552.71">0.11</tspan><tspan x="564.34">0.00</tspan><tspan x="575.96" fill="#f7fbff" stroke="#f7fbff">0.87</tspan><tspan x="587.59">0.00</tspan><tspan x="599.21">0.02</tspan><tspan x="610.84">0.00</tspan><tspan x="622.46">0.00</tspan><tspan x="634.09">0.00</tspan></text>
<text y="201.97"><tspan x="413.21">0.00</tspan><tspan x="424.84">0.00</tspan><tspan x="436.46">0.00</tspan><tspan x="448.09">0.00</tspan><tspan x="459.71">0.00</tspan><tspan x="471.34">0.00</tspan><tspan x="482.96">0.00</tspan><tspan x="494.59">0.00</tspan><tspan x="506.21">0.00</tspan><tspan x="517.84">0.00</tspan><tspan x="529.46">0.00</tspan><tspan x="541.09">0.00</tspan><tspan x="552.71">0.00</tspan><tspan x="564.34">0.08</tspan><tspan x="575.96">0.00</tspan><tspan x="587.59" fill="#f7fbff" stroke="#f7fbff">0.90</tspan><tspan x="599.21">0.00</tspan><tspan x="610.84">0.01</tspan><tspan x="622.46">0.00</tspan><tspan x="634.09">0.00</tspan></text>
<text y="213.32"><tspan x="413.21">0.00</tspan><tspan x="424.84">0.00</tspan><tspan x="436.46">0.00</tspan><tspan x="448.09">0.00</tspan><tspan x="459.71">0.00</tspan><tspan x="471.34">0.00</tspan><tspan x="482.96">0.00</tspan><tspan x="494.59">0.00</tspan><tspan x="506.21">0.00</tspan><tspan x="517.84">0.00</tspan><tspan x="529.46">0.00</tspan><tspan x="541.09">0.00</tspan><tspan x="552.71">0.02</tspan><tspan x="564.34">0.00</tspan><tspan x="575.96">0.01</tspan><tspan x="587.59">0.00</tspan><tspan x="599.21" fill="#f7fbff" stroke="#f7fbff">0.96</tspan><tspan x="610.84">0.01</tspan><tspan x="622.46">0.00</tspan><tspan x="634.09">0.00</tspan></text>
<text y="224.68"><tspan x="413.21">0.00</tspan><tspan x="424.84">0.00</tspan><tspan x="436.46">0.00</tspan><tspan x="448.09">0.00</tspan><tspan x="459.71">0.00</tspan><tspan x="471.34">0.00</tspan><tspan x="482.96">0.00</tspan><tspan x="494.59">0.00</tspan><tspan x="506.21">0.00</tspan><tspan x="517.84">0.00</tspan><tspan x="529.46">0.00</tspan><tspan x="541.09">0.01</tspan><tspan x="552.71">0.00</tspan><tspan x="564.34">0.01</tspan><tspan x="575.96">0.00</tspan><tspan x="587.59">0.01</tspan><tspan x="599.21">0.01</tspan><tspan x="610.84" fill="#f7fbff" stroke="#f7fbff">0.95</tspan><tspan x="622.46">0.00</tspan><tspan x="634.09">0.00</tspan></text>
<text y="236.03"><tspan x="413.21">0.01</tspan><tspan x="424.84">0.00</tspan><tspan x="436.46">0.00</tspan><tspan x="448.09">0.00</tspan><tspan x="459.71">0.00</tspan><tspan x="471.34">0.00</tspan><tspan x="482.96">0.00</tspan><tspan x="494.59">0.00</tspan><tspan x="506.21">0.00</tspan><tspan x="517.84">0.00</tspan><tspan x="529.46">0.01</tspan><tspan x="541.09">0.01</tspan><tspan x="552.71">0.01</tspan><tspan x="564.34">0.00</tspan><tspan x="575.96">0.00</tspan><tspan x="587.59">0.00</tspan><tspan x="599.21">0.00</tspan><tspan x="610.84">0.00</tspan><tspan x="622.46" fill="#f7fbff" stroke="#f7fbff">0.96</tspan><tspan x="634.09">0.00</tspan></text>
<text y="247.39"><tspan x="413.21">0.00</tspan><tspan x="424.84">0.00</tspan><tspan x="436.46">0.00</tspan><tspan x="448.09">0.00</tspan><tspan x="459.71">0.00</tspan><tspan x="471.34">0.00</tspan><tspan x="482.96">0.36</tspan><tspan x="494.59">0.27</tspan><tspan x="506.21">0.00</tspan><tspan x="517.84">0.00</tspan><tspan x="529.46">0.00</tspan><tspan x="541.09">0.00</tspan><tspan x="552.71">0.00</tspan><tspan x="564.34">0.00</tspan><tspan x="575.96">0.00</tspan><tspan x="587.59">0.00</tspan><tspan x="599.21">0.00</tspan><tspan x="610.84">0.00</tspan><tspan x="622.46">0.00</tspan><tspan x="634.09">0.36</tspan></text>
</g>
<g font-size="5.5" fill="#111" stroke="#111" stroke-width="0.08">
<text x="398.1" y="32.06" text-anchor="middle">A1</text>
<text x="398.1" y="43.41" text-anchor="middle">A2</text>
<text x="398.1" y="54.77" text-anchor="middle">A3</text>
<text x="398.1" y="66.12" text-anchor="middle">A4</text>
<text x="398.1" y="77.48" text-anchor="middle">A7</text>
<text x="398.1" y="88.83" text-anchor="middle">A8</text>
<text x="398.1" y="100.19" text-anchor="middle">A5</text>
<text x="398.1" y="111.54" text-anchor="middle">A6</text>
<text x="398.1" y="122.9" text-anchor="middle">A9</text>
<text x="398.1" y="134.25" text-anchor="middle">A10</text>
<text x="398.1" y="145.61" text-anchor="middle">P1</text>
<text x="398.1" y="156.96" text-anchor="middle">P2</text>
<text x="398.1" y="168.32" text-anchor="middle">P3</text>
<text x="398.1" y="179.67" text-anchor="middle">P4</text>
<text x="398.1" y="191.03" text-anchor="middle">P5</text>
<text x="398.1" y="202.38" text-anchor="middle">P6</text>
<text x="398.1" y="213.74" text-anchor="middle">P7</text>
<text x="398.1" y="225.09" text-anchor="middle">P8</text>
<text x="398.1" y="236.45" text-anchor="middle">P0</text>
<text x="398.1" y="247.8" text-anchor="middle">A0</text>
<text x="413.21" y="263.3" text-anchor="middle">A1</text>
<text x="424.84" y="263.3" text-anchor="middle">A2</text>
<text x="436.46" y="263.3" text-anchor="middle">A3</text>
<text x="448.09" y="263.3" text-anchor="middle">A4</text>
<text x="459.71" y="263.3" text-anchor="middle">A7</text>
<text x="471.34" y="263.3" text-anchor="middle">A8</text>
<text x="482.96" y="263.3" text-anchor="middle">A5</text>
<text x="494.59" y="263.3" text-anchor="middle">A6</text>
<text x="506.21" y="263.3" text-anchor="middle">A9</text>
<text x="517.84" y="263.3" text-anchor="middle">A10</text>
<text x="529.46" y="263.3" text-anchor="middle">P1</text>
<text x="541.09" y="263.3" text-anchor="middle">P2</text>
<text x="552.71" y="263.3" text-anchor="middle">P3</text>
<text x="564.34" y="263.3" text-anchor="middle">P4</text>
<text x="575.96" y="263.3" text-anchor="middle">P5</text>
<text x="587.59" y="263.3" text-anchor="middle">P6</text>
<text x="599.21" y="263.3" text-anchor="middle">P7</text>
<text x="610.84" y="263.3" text-anchor="middle">P8</text>
<text x="622.46" y="263.3" text-anchor="middle">P0</text>
<text x="634.09" y="263.3" text-anchor="middle">A0</text>
</g>
<text x="523.65" y="278.5" font-size="5.75" text-anchor="middle" fill="#111" stroke="#111" stroke-width="0.08">Predicted label</text>
<text transform="translate(380.4 135.95) rotate(-90)" font-size="5.65" text-anchor="middle" fill="#111" stroke="#111" stroke-width="0.08">True label</text>
<text x="523.8" y="18.6" font-size="9.32" text-anchor="middle" fill="#000" stroke="#000" stroke-width="0.1">Control group macrovessel chunk prediction</text>
<text x="358.5" y="18.2" font-size="15.5" fill="#111">B</text>
<rect x="654.2" y="-0.8" width="14.6" height="277" fill="url(#blues)" stroke="#333" stroke-width="0.7"/>
<g font-size="4.7" fill="#222">
<line x1="668.8" x2="670.8" y1="276.2" y2="276.2" stroke="#333" stroke-width="0.5"/>
<text x="672.6" y="277.89">0.0</text>
<line x1="668.8" x2="670.8" y1="220.8" y2="220.8" stroke="#333" stroke-width="0.5"/>
<text x="672.6" y="222.49">0.2</text>
<line x1="668.8" x2="670.8" y1="165.4" y2="165.4" stroke="#333" stroke-width="0.5"/>
<text x="672.6" y="167.09">0.4</text>
<line x1="668.8" x2="670.8" y1="110" y2="110" stroke="#333" stroke-width="0.5"/>
<text x="672.6" y="111.69">0.6</text>
<line x1="668.8" x2="670.8" y1="54.6" y2="54.6" stroke="#333" stroke-width="0.5"/>
<text x="672.6" y="56.29">0.8</text>
</g>
</g>
<g id="panelC">
<rect x="66.9" y="345.1" width="232" height="227.2" fill="#f7fbff"/>
<rect x="66.9" y="345.1" width="11.6" height="11.36" fill="#083573"/>
<rect x="78.5" y="356.46" width="11.6" height="11.36" fill="#08326e"/>
<rect x="66.9" y="367.82" width="11.6" height="11.36" fill="#f5fafe"/>
<rect x="90.1" y="367.82" width="11.6" height="11.36" fill="#08458a"/>
<rect x="113.3" y="367.82" width="11.6" height="11.36" fill="#ebf3fb"/>
<rect x="136.5" y="367.82" width="11.6" height="11.36" fill="#f5fafe"/>
<rect x="78.5" y="379.18" width="11.6" height="11.36" fill="#f5fafe"/>
<rect x="101.7" y="379.18" width="11.6" height="11.36" fill="#08458a"/>
<rect x="124.9" y="379.18" width="11.6" height="11.36" fill="#eef5fc"/>
<rect x="90.1" y="390.54" width="11.6" height="11.36" fill="#f5fafe"/>
<rect x="113.3" y="390.54" width="11.6" height="11.36" fill="#08326e"/>
<rect x="101.7" y="401.9" width="11.6" height="11.36" fill="#f5fafe"/>
<rect x="124.9" y="401.9" width="11.6" height="11.36" fill="#08326e"/>
<rect x="90.1" y="413.26" width="11.6" height="11.36" fill="#f5fafe"/>
<rect x="136.5" y="413.26" width="11.6" height="11.36" fill="#084d96"/>
<rect x="148.1" y="413.26" width="11.6" height="11.36" fill="#eaf2fb"/>
<rect x="159.7" y="413.26" width="11.6" height="11.36" fill="#f5fafe"/>
<rect x="171.3" y="413.26" width="11.6" height="11.36" fill="#f3f8fe"/>
<rect x="78.5" y="424.62" width="11.6" height="11.36" fill="#f5fafe"/>
<rect x="101.7" y="424.62" width="11.6" height="11.36" fill="#f5fafe"/>
<rect x="136.5" y="424.62" width="11.6" height="11.36" fill="#eef5fc"/>
<rect x="148.1" y="424.62" width="11.6" height="11.36" fill="#084d96"/>
<rect x="159.7" y="424.62" width="11.6" height="11.36" fill="#f3f8fe"/>
<rect x="171.3" y="424.62" width="11.6" height="11.36" fill="#f3f8fe"/>
<rect x="136.5" y="435.98" width="11.6" height="11.36" fill="#f5fafe"/>
<rect x="148.1" y="435.98" width="11.6" height="11.36" fill="#f5fafe"/>
<rect x="159.7" y="435.98" width="11.6" height="11.36" fill="#083c7d"/>
<rect x="171.3" y="435.98" width="11.6" height="11.36" fill="#eff6fc"/>
<rect x="136.5" y="447.34" width="11.6" height="11.36" fill="#f5fafe"/>
<rect x="148.1" y="447.34" width="11.6" height="11.36" fill="#f5fafe"/>
<rect x="159.7" y="447.34" width="11.6" height="11.36" fill="#eff6fc"/>
<rect x="171.3" y="447.34" width="11.6" height="11.36" fill="#084082"/>
<rect x="182.9" y="458.7" width="11.6" height="11.36" fill="#083a7a"/>
<rect x="194.5" y="458.7" width="11.6" height="11.36" fill="#f5fafe"/>
<rect x="252.5" y="458.7" width="11.6" height="11.36" fill="#f5fafe"/>
<rect x="264.1" y="458.7" width="11.6" height="11.36" fill="#f5fafe"/>
<rect x="275.7" y="458.7" width="11.6" height="11.36" fill="#f5fafe"/>
<rect x="182.9" y="470.06" width="11.6" height="11.36" fill="#f5fafe"/>
<rect x="194.5" y="470.06" width="11.6" height="11.36" fill="#083776"/>
<rect x="275.7" y="470.06" width="11.6" height="11.36" fill="#f5fafe"/>
<rect x="206.1" y="481.42" width="11.6" height="11.36" fill="#083776"/>
<rect x="217.7" y="481.42" width="11.6" height="11.36" fill="#f5fafe"/>
<rect x="229.3" y="481.42" width="11.6" height="11.36" fill="#f5fafe"/>
<rect x="206.1" y="492.78" width="11.6" height="11.36" fill="#f5fafe"/>
<rect x="217.7" y="492.78" width="11.6" height="11.36" fill="#083776"/>
<rect x="240.9" y="492.78" width="11.6" height="11.36" fill="#f5fafe"/>
<rect x="206.1" y="504.14" width="11.6" height="11.36" fill="#eef5fc"/>
<rect x="229.3" y="504.14" width="11.6" height="11.36" fill="#084285"/>
<rect x="217.7" y="515.5" width="11.6" height="11.36" fill="#eff6fc"/>
<rect x="240.9" y="515.5" width="11.6" height="11.36" fill="#084082"/>
<rect x="264.1" y="515.5" width="11.6" height="11.36" fill="#f5fafe"/>
<rect x="182.9" y="526.86" width="11.6" height="11.36" fill="#f5fafe"/>
<rect x="229.3" y="526.86" width="11.6" height="11.36" fill="#f5fafe"/>
<rect x="252.5" y="526.86" width="11.6" height="11.36" fill="#083c7d"/>
<rect x="264.1" y="526.86" width="11.6" height="11.36" fill="#f3f8fe"/>
<rect x="240.9" y="538.22" width="11.6" height="11.36" fill="#f5fafe"/>
<rect x="252.5" y="538.22" width="11.6" height="11.36" fill="#f5fafe"/>
<rect x="264.1" y="538.22" width="11.6" height="11.36" fill="#083a7a"/>
<rect x="275.7" y="538.22" width="11.6" height="11.36" fill="#f5fafe"/>
<rect x="182.9" y="549.58" width="11.6" height="11.36" fill="#f5fafe"/>
<rect x="194.5" y="549.58" width="11.6" height="11.36" fill="#f5fafe"/>
<rect x="206.1" y="549.58" width="11.6" height="11.36" fill="#f5fafe"/>
<rect x="217.7" y="549.58" width="11.6" height="11.36" fill="#f5fafe"/>
<rect x="264.1" y="549.58" width="11.6" height="11.36" fill="#f5fafe"/>
<rect x="275.7" y="549.58" width="11.6" height="11.36" fill="#083c7d"/>
<rect x="148.1" y="560.94" width="11.6" height="11.36" fill="#e5eff9"/>
<rect x="287.3" y="560.94" width="11.6" height="11.36" fill="#08488e"/>
<rect x="66.9" y="345.1" width="232" height="227.2" fill="none" stroke="#444" stroke-width="0.7"/>
<g font-size="4.35" text-anchor="middle" fill="#08306b" stroke="#08306b" stroke-width="0.1">
<text y="352.35"><tspan x="72.7" fill="#f7fbff" stroke="#f7fbff">0.98</tspan><tspan x="84.3">0.00</tspan><tspan x="95.9">0.00</tspan><tspan x="107.5">0.00</tspan><tspan x="119.1">0.00</tspan><tspan x="130.7">0.00</tspan><tspan x="142.3">0.00</tspan><tspan x="153.9">0.00</tspan><tspan x="165.5">0.00</tspan><tspan x="177.1">0.00</tspan><tspan x="188.7">0.00</tspan><tspan x="200.3">0.00</tspan><tspan x="211.9">0.00</tspan><tspan x="223.5">0.00</tspan><tspan x="235.1">0.00</tspan><tspan x="246.7">0.00</tspan><tspan x="258.3">0.00</tspan><tspan x="269.9">0.00</tspan><tspan x="281.5">0.00</tspan><tspan x="293.1">0.00</tspan></text>
<text y="363.71"><tspan x="72.7">0.00</tspan><tspan x="84.3" fill="#f7fbff" stroke="#f7fbff">0.99</tspan><tspan x="95.9">0.00</tspan><tspan x="107.5">0.00</tspan><tspan x="119.1">0.00</tspan><tspan x="130.7">0.00</tspan><tspan x="142.3">0.00</tspan><tspan x="153.9">0.00</tspan><tspan x="165.5">0.00</tspan><tspan x="177.1">0.00</tspan><tspan x="188.7">0.00</tspan><tspan x="200.3">0.00</tspan><tspan x="211.9">0.00</tspan><tspan x="223.5">0.00</tspan><tspan x="235.1">0.00</tspan><tspan x="246.7">0.00</tspan><tspan x="258.3">0.00</tspan><tspan x="269.9">0.00</tspan><tspan x="281.5">0.00</tspan><tspan x="293.1">0.00</tspan></text>
<text y="375.07"><tspan x="72.7">0.01</tspan><tspan x="84.3">0.00</tspan><tspan x="95.9" fill="#f7fbff" stroke="#f7fbff">0.92</tspan><tspan x="107.5">0.00</tspan><tspan x="119.1">0.06</tspan><tspan x="130.7">0.00</tspan><tspan x="142.3">0.01</tspan><tspan x="153.9">0.00</tspan><tspan x="165.5">0.00</tspan><tspan x="177.1">0.00</tspan><tspan x="188.7">0.00</tspan><tspan x="200.3">0.00</tspan><tspan x="211.9">0.00</tspan><tspan x="223.5">0.00</tspan><tspan x="235.1">0.00</tspan><tspan x="246.7">0.00</tspan><tspan x="258.3">0.00</tspan><tspan x="269.9">0.00</tspan><tspan x="281.5">0.00</tspan><tspan x="293.1">0.00</tspan></text>
<text y="386.43"><tspan x="72.7">0.00</tspan><tspan x="84.3">0.01</tspan><tspan x="95.9">0.00</tspan><tspan x="107.5" fill="#f7fbff" stroke="#f7fbff">0.92</tspan><tspan x="119.1">0.00</tspan><tspan x="130.7">0.05</tspan><tspan x="142.3">0.00</tspan><tspan x="153.9">0.00</tspan><tspan x="165.5">0.00</tspan><tspan x="177.1">0.00</tspan><tspan x="188.7">0.00</tspan><tspan x="200.3">0.00</tspan><tspan x="211.9">0.00</tspan><tspan x="223.5">0.00</tspan><tspan x="235.1">0.00</tspan><tspan x="246.7">0.00</tspan><tspan x="258.3">0.00</tspan><tspan x="269.9">0.00</tspan><tspan x="281.5">0.00</tspan><tspan x="293.1">0.00</tspan></text>
<text y="397.79"><tspan x="72.7">0.00</tspan><tspan x="84.3">0.00</tspan><tspan x="95.9">0.01</tspan><tspan x="107.5">0.00</tspan><tspan x="119.1" fill="#f7fbff" stroke="#f7fbff">0.99</tspan><tspan x="130.7">0.00</tspan><tspan x="142.3">0.00</tspan><tspan x="153.9">0.00</tspan><tspan x="165.5">0.00</tspan><tspan x="177.1">0.00</tspan><tspan x="188.7">0.00</tspan><tspan x="200.3">0.00</tspan><tspan x="211.9">0.00</tspan><tspan x="223.5">0.00</tspan><tspan x="235.1">0.00</tspan><tspan x="246.7">0.00</tspan><tspan x="258.3">0.00</tspan><tspan x="269.9">0.00</tspan><tspan x="281.5">0.00</tspan><tspan x="293.1">0.00</tspan></text>
<text y="409.15"><tspan x="72.7">0.00</tspan><tspan x="84.3">0.00</tspan><tspan x="95.9">0.00</tspan><tspan x="107.5">0.01</tspan><tspan x="119.1">0.00</tspan><tspan x="130.7" fill="#f7fbff" stroke="#f7fbff">0.99</tspan><tspan x="142.3">0.00</tspan><tspan x="153.9">0.00</tspan><tspan x="165.5">0.00</tspan><tspan x="177.1">0.00</tspan><tspan x="188.7">0.00</tspan><tspan x="200.3">0.00</tspan><tspan x="211.9">0.00</tspan><tspan x="223.5">0.00</tspan><tspan x="235.1">0.00</tspan><tspan x="246.7">0.00</tspan><tspan x="258.3">0.00</tspan><tspan x="269.9">0.00</tspan><tspan x="281.5">0.00</tspan><tspan x="293.1">0.00</tspan></text>
<text y="420.51"><tspan x="72.7">0.00</tspan><tspan x="84.3">0.00</tspan><tspan x="95.9">0.01</tspan><tspan x="107.5">0.00</tspan><tspan x="119.1">0.00</tspan><tspan x="130.7">0.00</tspan><tspan x="142.3" fill="#f7fbff" stroke="#f7fbff">0.89</tspan><tspan x="153.9">0.07</tspan><tspan x="165.5">0.01</tspan><tspan x="177.1">0.02</tspan><tspan x="188.7">0.00</tspan><tspan x="200.3">0.00</tspan><tspan x="211.9">0.00</tspan><tspan x="223.5">0.00</tspan><tspan x="235.1">0.00</tspan><tspan x="246.7">0.00</tspan><tspan x="258.3">0.00</tspan><tspan x="269.9">0.00</tspan><tspan x="281.5">0.00</tspan><tspan x="293.1">0.00</tspan></text>
<text y="431.87"><tspan x="72.7">0.00</tspan><tspan x="84.3">0.01</tspan><tspan x="95.9">0.00</tspan><tspan x="107.5">0.01</tspan><tspan x="119.1">0.00</tspan><tspan x="130.7">0.00</tspan><tspan x="142.3">0.05</tspan><tspan x="153.9" fill="#f7fbff" stroke="#f7fbff">0.89</tspan><tspan x="165.5">0.02</tspan><tspan x="177.1">0.02</tspan><tspan x="188.7">0.00</tspan><tspan x="200.3">0.00</tspan><tspan x="211.9">0.00</tspan><tspan x="223.5">0.00</tspan><tspan x="235.1">0.00</tspan><tspan x="246.7">0.00</tspan><tspan x="258.3">0.00</tspan><tspan x="269.9">0.00</tspan><tspan x="281.5">0.00</tspan><tspan x="293.1">0.00</tspan></text>
<text y="443.23"><tspan x="72.7">0.00</tspan><tspan x="84.3">0.00</tspan><tspan x="95.9">0.00</tspan><tspan x="107.5">0.00</tspan><tspan x="119.1">0.00</tspan><tspan x="130.7">0.00</tspan><tspan x="142.3">0.01</tspan><tspan x="153.9">0.01</tspan><tspan x="165.5" fill="#f7fbff" stroke="#f7fbff">0.95</tspan><tspan x="177.1">0.04</tspan><tspan x="188.7">0.00</tspan><tspan x="200.3">0.00</tspan><tspan x="211.9">0.00</tspan><tspan x="223.5">0.00</tspan><tspan x="235.1">0.00</tspan><tspan x="246.7">0.00</tspan><tspan x="258.3">0.00</tspan><tspan x="269.9">0.00</tspan><tspan x="281.5">0.00</tspan><tspan x="293.1">0.00</tspan></text>
<text y="454.59"><tspan x="72.7">0.00</tspan><tspan x="84.3">0.00</tspan><tspan x="95.9">0.00</tspan><tspan x="107.5">0.00</tspan><tspan x="119.1">0.00</tspan><tspan x="130.7">0.00</tspan><tspan x="142.3">0.01</tspan><tspan x="153.9">0.01</tspan><tspan x="165.5">0.04</tspan><tspan x="177.1" fill="#f7fbff" stroke="#f7fbff">0.94</tspan><tspan x="188.7">0.00</tspan><tspan x="200.3">0.00</tspan><tspan x="211.9">0.00</tspan><tspan x="223.5">0.00</tspan><tspan x="235.1">0.00</tspan><tspan x="246.7">0.00</tspan><tspan x="258.3">0.00</tspan><tspan x="269.9">0.00</tspan><tspan x="281.5">0.00</tspan><tspan x="293.1">0.00</tspan></text>
<text y="465.95"><tspan x="72.7">0.00</tspan><tspan x="84.3">0.00</tspan><tspan x="95.9">0.00</tspan><tspan x="107.5">0.00</tspan><tspan x="119.1">0.00</tspan><tspan x="130.7">0.00</tspan><tspan x="142.3">0.00</tspan><tspan x="153.9">0.00</tspan><tspan x="165.5">0.00</tspan><tspan x="177.1">0.00</tspan><tspan x="188.7" fill="#f7fbff" stroke="#f7fbff">0.96</tspan><tspan x="200.3">0.01</tspan><tspan x="211.9">0.00</tspan><tspan x="223.5">0.00</tspan><tspan x="235.1">0.00</tspan><tspan x="246.7">0.00</tspan><tspan x="258.3">0.01</tspan><tspan x="269.9">0.01</tspan><tspan x="281.5">0.01</tspan><tspan x="293.1">0.00</tspan></text>
<text y="477.31"><tspan x="72.7">0.00</tspan><tspan x="84.3">0.00</tspan><tspan x="95.9">0.00</tspan><tspan x="107.5">0.00</tspan><tspan x="119.1">0.00</tspan><tspan x="130.7">0.00</tspan><tspan x="142.3">0.00</tspan><tspan x="153.9">0.00</tspan><tspan x="165.5">0.00</tspan><tspan x="177.1">0.00</tspan><tspan x="188.7">0.01</tspan><tspan x="200.3" fill="#f7fbff" stroke="#f7fbff">0.97</tspan><tspan x="211.9">0.00</tspan><tspan x="223.5">0.00</tspan><tspan x="235.1">0.00</tspan><tspan x="246.7">0.00</tspan><tspan x="258.3">0.00</tspan><tspan x="269.9">0.00</tspan><tspan x="281.5">0.01</tspan><tspan x="293.1">0.00</tspan></text>
<text y="488.67"><tspan x="72.7">0.00</tspan><tspan x="84.3">0.00</tspan><tspan x="95.9">0.00</tspan><tspan x="107.5">0.00</tspan><tspan x="119.1">0.00</tspan><tspan x="130.7">0.00</tspan><tspan x="142.3">0.00</tspan><tspan x="153.9">0.00</tspan><tspan x="165.5">0.00</tspan><tspan x="177.1">0.00</tspan><tspan x="188.7">0.00</tspan><tspan x="200.3">0.00</tspan><tspan x="211.9" fill="#f7fbff" stroke="#f7fbff">0.97</tspan><tspan x="223.5">0.01</tspan><tspan x="235.1">0.01</tspan><tspan x="246.7">0.00</tspan><tspan x="258.3">0.00</tspan><tspan x="269.9">0.00</tspan><tspan x="281.5">0.00</tspan><tspan x="293.1">0.00</tspan></text>
<text y="500.03"><tspan x="72.7">0.00</tspan><tspan x="84.3">0.00</tspan><tspan x="95.9">0.00</tspan><tspan x="107.5">0.00</tspan><tspan x="119.1">0.00</tspan><tspan x="130.7">0.00</tspan><tspan x="142.3">0.00</tspan><tspan x="153.9">0.00</tspan><tspan x="165.5">0.00</tspan><tspan x="177.1">0.00</tspan><tspan x="188.7">0.00</tspan><tspan x="200.3">0.00</tspan><tspan x="211.9">0.01</tspan><tspan x="223.5" fill="#f7fbff" stroke="#f7fbff">0.97</tspan><tspan x="235.1">0.00</tspan><tspan x="246.7">0.01</tspan><tspan x="258.3">0.00</tspan><tspan x="269.9">0.00</tspan><tspan x="281.5">0.00</tspan><tspan x="293.1">0.00</tspan></text>
<text y="511.39"><tspan x="72.7">0.00</tspan><tspan x="84.3">0.00</tspan><tspan x="95.9">0.00</tspan><tspan x="107.5">0.00</tspan><tspan x="119.1">0.00</tspan><tspan x="130.7">0.00</tspan><tspan x="142.3">0.00</tspan><tspan x="153.9">0.00</tspan><tspan x="165.5">0.00</tspan><tspan x="177.1">0.00</tspan><tspan x="188.7">0.00</tspan><tspan x="200.3">0.00</tspan><tspan x="211.9">0.05</tspan><tspan x="223.5">0.00</tspan><tspan x="235.1" fill="#f7fbff" stroke="#f7fbff">0.93</tspan><tspan x="246.7">0.00</tspan><tspan x="258.3">0.00</tspan><tspan x="269.9">0.00</tspan><tspan x="281.5">0.00</tspan><tspan x="293.1">0.00</tspan></text>
<text y="522.75"><tspan x="72.7">0.00</tspan><tspan x="84.3">0.00</tspan><tspan x="95.9">0.00</tspan><tspan x="107.5">0.00</tspan><tspan x="119.1">0.00</tspan><tspan x="130.7">0.00</tspan><tspan x="142.3">0.00</tspan><tspan x="153.9">0.00</tspan><tspan x="165.5">0.00</tspan><tspan x="177.1">0.00</tspan><tspan x="188.7">0.00</tspan><tspan x="200.3">0.00</tspan><tspan x="211.9">0.00</tspan><tspan x="223.5">0.04</tspan><tspan x="235.1">0.00</tspan><tspan x="246.7" fill="#f7fbff" stroke="#f7fbff">0.94</tspan><tspan x="258.3">0.00</tspan><tspan x="269.9">0.01</tspan><tspan x="281.5">0.00</tspan><tspan x="293.1">0.00</tspan></text>
<text y="534.11"><tspan x="72.7">0.00</tspan><tspan x="84.3">0.00</tspan><tspan x="95.9">0.00</tspan><tspan x="107.5">0.00</tspan><tspan x="119.1">0.00</tspan><tspan x="130.7">0.00</tspan><tspan x="142.3">0.00</tspan><tspan x="153.9">0.00</tspan><tspan x="165.5">0.00</tspan><tspan x="177.1">0.00</tspan><tspan x="188.7">0.01</tspan><tspan x="200.3">0.00</tspan><tspan x="211.9">0.00</tspan><tspan x="223.5">0.00</tspan><tspan x="235.1">0.01</tspan><tspan x="246.7">0.00</tspan><tspan x="258.3" fill="#f7fbff" stroke="#f7fbff">0.95</tspan><tspan x="269.9">0.02</tspan><tspan x="281.5">0.00</tspan><tspan x="293.1">0.00</tspan></text>
<text y="545.47"><tspan x="72.7">0.00</tspan><tspan x="84.3">0.00</tspan><tspan x="95.9">0.00</tspan><tspan x="107.5">0.00</tspan><tspan x="119.1">0.00</tspan><tspan x="130.7">0.00</tspan><tspan x="142.3">0.00</tspan><tspan x="153.9">0.00</tspan><tspan x="165.5">0.00</tspan><tspan x="177.1">0.00</tspan><tspan x="188.7">0.00</tspan><tspan x="200.3">0.00</tspan><tspan x="211.9">0.00</tspan><tspan x="223.5">0.00</tspan><tspan x="235.1">0.00</tspan><tspan x="246.7">0.01</tspan><tspan x="258.3">0.01</tspan><tspan x="269.9" fill="#f7fbff" stroke="#f7fbff">0.96</tspan><tspan x="281.5">0.01</tspan><tspan x="293.1">0.00</tspan></text>
<text y="556.83"><tspan x="72.7">0.00</tspan><tspan x="84.3">0.00</tspan><tspan x="95.9">0.00</tspan><tspan x="107.5">0.00</tspan><tspan x="119.1">0.00</tspan><tspan x="130.7">0.00</tspan><tspan x="142.3">0.00</tspan><tspan x="153.9">0.00</tspan><tspan x="165.5">0.00</tspan><tspan x="177.1">0.00</tspan><tspan x="188.7">0.01</tspan><tspan x="200.3">0.01</tspan><tspan x="211.9">0.01</tspan><tspan x="223.5">0.01</tspan><tspan x="235.1">0.00</tspan><tspan x="246.7">0.00</tspan><tspan x="258.3">0.00</tspan><tspan x="269.9">0.01</tspan><tspan x="281.5" fill="#f7fbff" stroke="#f7fbff">0.95</tspan><tspan x="293.1">0.00</tspan></text>
<text y="568.19"><tspan x="72.7">0.00</tspan><tspan x="84.3">0.00</tspan><tspan x="95.9">0.00</tspan><tspan x="107.5">0.00</tspan><tspan x="119.1">0.00</tspan><tspan x="130.7">0.00</tspan><tspan x="142.3">0.00</tspan><tspan x="153.9">0.09</tspan><tspan x="165.5">0.00</tspan><tspan x="177.1">0.00</tspan><tspan x="188.7">0.00</tspan><tspan x="200.3">0.00</tspan><tspan x="211.9">0.00</tspan><tspan x="223.5">0.00</tspan><tspan x="235.1">0.00</tspan><tspan x="246.7">0.00</tspan><tspan x="258.3">0.00</tspan><tspan x="269.9">0.00</tspan><tspan x="281.5">0.00</tspan><tspan x="293.1" fill="#f7fbff" stroke="#f7fbff">0.91</tspan></text>
</g>
<g font-size="5.5" fill="#111" stroke="#111" stroke-width="0.08">
<text x="57" y="352.76" text-anchor="middle">A1</text>
<text x="57" y="364.12" text-anchor="middle">A2</text>
<text x="57" y="375.48" text-anchor="middle">A3</text>
<text x="57" y="386.84" text-anchor="middle">A4</text>
<text x="57" y="398.2" text-anchor="middle">A7</text>
<text x="57" y="409.56" text-anchor="middle">A8</text>
<text x="57" y="420.92" text-anchor="middle">A5</text>
<text x="57" y="432.28" text-anchor="middle">A6</text>
<text x="57" y="443.64" text-anchor="middle">A9</text>
<text x="57" y="455" text-anchor="middle">A10</text>
<text x="57" y="466.36" text-anchor="middle">P1</text>
<text x="57" y="477.72" text-anchor="middle">P2</text>
<text x="57" y="489.08" text-anchor="middle">P3</text>
<text x="57" y="500.44" text-anchor="middle">P4</text>
<text x="57" y="511.8" text-anchor="middle">P5</text>
<text x="57" y="523.16" text-anchor="middle">P6</text>
<text x="57" y="534.52" text-anchor="middle">P7</text>
<text x="57" y="545.88" text-anchor="middle">P8</text>
<text x="57" y="557.24" text-anchor="middle">P0</text>
<text x="57" y="568.6" text-anchor="middle">A0</text>
<text x="72.7" y="583.5" text-anchor="middle">A1</text>
<text x="84.3" y="583.5" text-anchor="middle">A2</text>
<text x="95.9" y="583.5" text-anchor="middle">A3</text>
<text x="107.5" y="583.5" text-anchor="middle">A4</text>
<text x="119.1" y="583.5" text-anchor="middle">A7</text>
<text x="130.7" y="583.5" text-anchor="middle">A8</text>
<text x="142.3" y="583.5" text-anchor="middle">A5</text>
<text x="153.9" y="583.5" text-anchor="middle">A6</text>
<text x="165.5" y="583.5" text-anchor="middle">A9</text>
<text x="177.1" y="583.5" text-anchor="middle">A10</text>
<text x="188.7" y="583.5" text-anchor="middle">P1</text>
<text x="200.3" y="583.5" text-anchor="middle">P2</text>
<text x="211.9" y="583.5" text-anchor="middle">P3</text>
<text x="223.5" y="583.5" text-anchor="middle">P4</text>
<text x="235.1" y="583.5" text-anchor="middle">P5</text>
<text x="246.7" y="583.5" text-anchor="middle">P6</text>
<text x="258.3" y="583.5" text-anchor="middle">P7</text>
<text x="269.9" y="583.5" text-anchor="middle">P8</text>
<text x="281.5" y="583.5" text-anchor="middle">P0</text>
<text x="293.1" y="583.5" text-anchor="middle">A0</text>
</g>
<text x="182.9" y="598.4" font-size="5.75" text-anchor="middle" fill="#111" stroke="#111" stroke-width="0.08">Predicted label</text>
<text transform="translate(39.2 456.7) rotate(-90)" font-size="5.65" text-anchor="middle" fill="#111" stroke="#111" stroke-width="0.08">True label</text>
<text x="183" y="339.3" font-size="9.32" text-anchor="middle" fill="#000" stroke="#000" stroke-width="0.1">Stroke with ICAS group macrovessel chunk prediction</text>
<text x="6" y="339.3" font-size="15.5" fill="#111">C</text>
<rect x="313.3" y="320.2" width="14.5" height="277.1" fill="url(#blues)" stroke="#333" stroke-width="0.7"/>
<g font-size="4.7" fill="#222">
<line x1="327.8" x2="329.8" y1="597.3" y2="597.3" stroke="#333" stroke-width="0.5"/>
<text x="331.6" y="598.99">0.0</text>
<line x1="327.8" x2="329.8" y1="541.88" y2="541.88" stroke="#333" stroke-width="0.5"/>
<text x="331.6" y="543.57">0.2</text>
<line x1="327.8" x2="329.8" y1="486.46" y2="486.46" stroke="#333" stroke-width="0.5"/>
<text x="331.6" y="488.15">0.4</text>
<line x1="327.8" x2="329.8" y1="431.04" y2="431.04" stroke="#333" stroke-width="0.5"/>
<text x="331.6" y="432.73">0.6</text>
<line x1="327.8" x2="329.8" y1="375.62" y2="375.62" stroke="#333" stroke-width="0.5"/>
<text x="331.6" y="377.31">0.8</text>
</g>
</g>
<g id="panelD">
<rect x="407.7" y="345.1" width="232.2" height="227.1" fill="#f7fbff"/>
<rect x="407.7" y="345.1" width="11.61" height="11.36" fill="#083573"/>
<rect x="407.7" y="356.46" width="11.61" height="11.36" fill="#f3f8fe"/>
<rect x="419.31" y="356.46" width="11.61" height="11.36" fill="#083573"/>
<rect x="407.7" y="367.81" width="11.61" height="11.36" fill="#f5fafe"/>
<rect x="430.92" y="367.81" width="11.61" height="11.36" fill="#084a91"/>
<rect x="442.53" y="367.81" width="11.61" height="11.36" fill="#f5fafe"/>
<rect x="454.14" y="367.81" width="11.61" height="11.36" fill="#eef5fc"/>
<rect x="547.02" y="367.81" width="11.61" height="11.36" fill="#f5fafe"/>
<rect x="430.92" y="379.17" width="11.61" height="11.36" fill="#f5fafe"/>
<rect x="442.53" y="379.17" width="11.61" height="11.36" fill="#08458a"/>
<rect x="465.75" y="379.17" width="11.61" height="11.36" fill="#eef5fc"/>
<rect x="488.97" y="379.17" width="11.61" height="11.36" fill="#f5fafe"/>
<rect x="558.63" y="379.17" width="11.61" height="11.36" fill="#f5fafe"/>
<rect x="430.92" y="390.52" width="11.61" height="11.36" fill="#f5fafe"/>
<rect x="454.14" y="390.52" width="11.61" height="11.36" fill="#083573"/>
<rect x="465.75" y="390.52" width="11.61" height="11.36" fill="#f5fafe"/>
<rect x="442.53" y="401.88" width="11.61" height="11.36" fill="#f5fafe"/>
<rect x="454.14" y="401.88" width="11.61" height="11.36" fill="#f5fafe"/>
<rect x="465.75" y="401.88" width="11.61" height="11.36" fill="#083776"/>
<rect x="407.7" y="413.23" width="11.61" height="11.36" fill="#f5fafe"/>
<rect x="430.92" y="413.23" width="11.61" height="11.36" fill="#f5fafe"/>
<rect x="454.14" y="413.23" width="11.61" height="11.36" fill="#f5fafe"/>
<rect x="465.75" y="413.23" width="11.61" height="11.36" fill="#f5fafe"/>
<rect x="477.36" y="413.23" width="11.61" height="11.36" fill="#09529d"/>
<rect x="488.97" y="413.23" width="11.61" height="11.36" fill="#eef5fc"/>
<rect x="500.58" y="413.23" width="11.61" height="11.36" fill="#f3f8fe"/>
<rect x="512.19" y="413.23" width="11.61" height="11.36" fill="#f3f8fe"/>
<rect x="547.02" y="413.23" width="11.61" height="11.36" fill="#f5fafe"/>
<rect x="558.63" y="413.23" width="11.61" height="11.36" fill="#f5fafe"/>
<rect x="430.92" y="424.59" width="11.61" height="11.36" fill="#f5fafe"/>
<rect x="442.53" y="424.59" width="11.61" height="11.36" fill="#f5fafe"/>
<rect x="454.14" y="424.59" width="11.61" height="11.36" fill="#f5fafe"/>
<rect x="465.75" y="424.59" width="11.61" height="11.36" fill="#f5fafe"/>
<rect x="477.36" y="424.59" width="11.61" height="11.36" fill="#e5eff9"/>
<rect x="488.97" y="424.59" width="11.61" height="11.36" fill="#135fa7"/>
<rect x="500.58" y="424.59" width="11.61" height="11.36" fill="#f3f8fe"/>
<rect x="512.19" y="424.59" width="11.61" height="11.36" fill="#f3f8fe"/>
<rect x="558.63" y="424.59" width="11.61" height="11.36" fill="#f5fafe"/>
<rect x="454.14" y="435.94" width="11.61" height="11.36" fill="#f5fafe"/>
<rect x="465.75" y="435.94" width="11.61" height="11.36" fill="#f5fafe"/>
<rect x="477.36" y="435.94" width="11.61" height="11.36" fill="#f5fafe"/>
<rect x="488.97" y="435.94" width="11.61" height="11.36" fill="#f5fafe"/>
<rect x="500.58" y="435.94" width="11.61" height="11.36" fill="#084a91"/>
<rect x="512.19" y="435.94" width="11.61" height="11.36" fill="#eaf2fb"/>
<rect x="454.14" y="447.3" width="11.61" height="11.36" fill="#f5fafe"/>
<rect x="465.75" y="447.3" width="11.61" height="11.36" fill="#f5fafe"/>
<rect x="477.36" y="447.3" width="11.61" height="11.36" fill="#f5fafe"/>
<rect x="488.97" y="447.3" width="11.61" height="11.36" fill="#f5fafe"/>
<rect x="500.58" y="447.3" width="11.61" height="11.36" fill="#ebf3fb"/>
<rect x="512.19" y="447.3" width="11.61" height="11.36" fill="#084f99"/>
<rect x="523.8" y="458.65" width="11.61" height="11.36" fill="#083c7d"/>
<rect x="535.41" y="458.65" width="11.61" height="11.36" fill="#f3f8fe"/>
<rect x="593.46" y="458.65" width="11.61" height="11.36" fill="#f3f8fe"/>
<rect x="616.68" y="458.65" width="11.61" height="11.36" fill="#f5fafe"/>
<rect x="523.8" y="470" width="11.61" height="11.36" fill="#f5fafe"/>
<rect x="535.41" y="470" width="11.61" height="11.36" fill="#084082"/>
<rect x="605.07" y="470" width="11.61" height="11.36" fill="#f3f8fe"/>
<rect x="616.68" y="470" width="11.61" height="11.36" fill="#f5fafe"/>
<rect x="454.14" y="481.36" width="11.61" height="11.36" fill="#f5fafe"/>
<rect x="465.75" y="481.36" width="11.61" height="11.36" fill="#f5fafe"/>
<rect x="547.02" y="481.36" width="11.61" height="11.36" fill="#08488e"/>
<rect x="558.63" y="481.36" width="11.61" height="11.36" fill="#f2f7fd"/>
<rect x="570.24" y="481.36" width="11.61" height="11.36" fill="#f3f8fe"/>
<rect x="593.46" y="481.36" width="11.61" height="11.36" fill="#f5fafe"/>
<rect x="442.53" y="492.72" width="11.61" height="11.36" fill="#f5fafe"/>
<rect x="465.75" y="492.72" width="11.61" height="11.36" fill="#f3f8fe"/>
<rect x="547.02" y="492.72" width="11.61" height="11.36" fill="#f5fafe"/>
<rect x="558.63" y="492.72" width="11.61" height="11.36" fill="#084082"/>
<rect x="581.85" y="492.72" width="11.61" height="11.36" fill="#f5fafe"/>
<rect x="605.07" y="492.72" width="11.61" height="11.36" fill="#f5fafe"/>
<rect x="430.92" y="504.07" width="11.61" height="11.36" fill="#f5fafe"/>
<rect x="454.14" y="504.07" width="11.61" height="11.36" fill="#f3f8fe"/>
<rect x="547.02" y="504.07" width="11.61" height="11.36" fill="#eef5fc"/>
<rect x="558.63" y="504.07" width="11.61" height="11.36" fill="#f5fafe"/>
<rect x="570.24" y="504.07" width="11.61" height="11.36" fill="#09529d"/>
<rect x="593.46" y="504.07" width="11.61" height="11.36" fill="#f2f7fd"/>
<rect x="605.07" y="504.07" width="11.61" height="11.36" fill="#f5fafe"/>
<rect x="465.75" y="515.43" width="11.61" height="11.36" fill="#f5fafe"/>
<rect x="558.63" y="515.43" width="11.61" height="11.36" fill="#ebf3fb"/>
<rect x="570.24" y="515.43" width="11.61" height="11.36" fill="#f5fafe"/>
<rect x="581.85" y="515.43" width="11.61" height="11.36" fill="#084d96"/>
<rect x="593.46" y="515.43" width="11.61" height="11.36" fill="#f5fafe"/>
<rect x="605.07" y="515.43" width="11.61" height="11.36" fill="#f3f8fe"/>
<rect x="523.8" y="526.78" width="11.61" height="11.36" fill="#f5fafe"/>
<rect x="547.02" y="526.78" width="11.61" height="11.36" fill="#f5fafe"/>
<rect x="558.63" y="526.78" width="11.61" height="11.36" fill="#f5fafe"/>
<rect x="593.46" y="526.78" width="11.61" height="11.36" fill="#084082"/>
<rect x="605.07" y="526.78" width="11.61" height="11.36" fill="#f3f8fe"/>
<rect x="535.41" y="538.13" width="11.61" height="11.36" fill="#f5fafe"/>
<rect x="558.63" y="538.13" width="11.61" height="11.36" fill="#f3f8fe"/>
<rect x="581.85" y="538.13" width="11.61" height="11.36" fill="#f3f8fe"/>
<rect x="593.46" y="538.13" width="11.61" height="11.36" fill="#f2f7fd"/>
<rect x="605.07" y="538.13" width="11.61" height="11.36" fill="#084a91"/>
<rect x="523.8" y="549.49" width="11.61" height="11.36" fill="#f5fafe"/>
<rect x="535.41" y="549.49" width="11.61" height="11.36" fill="#f3f8fe"/>
<rect x="547.02" y="549.49" width="11.61" height="11.36" fill="#f5fafe"/>
<rect x="558.63" y="549.49" width="11.61" height="11.36" fill="#f3f8fe"/>
<rect x="593.46" y="549.49" width="11.61" height="11.36" fill="#f5fafe"/>
<rect x="616.68" y="549.49" width="11.61" height="11.36" fill="#084285"/>
<rect x="477.36" y="560.85" width="11.61" height="11.36" fill="#91c3de"/>
<rect x="488.97" y="560.85" width="11.61" height="11.36" fill="#eaf2fb"/>
<rect x="500.58" y="560.85" width="11.61" height="11.36" fill="#e1edf8"/>
<rect x="512.19" y="560.85" width="11.61" height="11.36" fill="#eff6fc"/>
<rect x="628.29" y="560.85" width="11.61" height="11.36" fill="#a0cbe2"/>
<rect x="407.7" y="345.1" width="232.2" height="227.1" fill="none" stroke="#444" stroke-width="0.7"/>
<g font-size="4.35" text-anchor="middle" fill="#08306b" stroke="#08306b" stroke-width="0.1">
<text y="352.34"><tspan x="413.5" fill="#f7fbff" stroke="#f7fbff">0.98</tspan><tspan x="425.12">0.00</tspan><tspan x="436.72">0.00</tspan><tspan x="448.33">0.00</tspan><tspan x="459.94">0.00</tspan><tspan x="471.56">0.00</tspan><tspan x="483.16">0.00</tspan><tspan x="494.77">0.00</tspan><tspan x="506.38">0.00</tspan><tspan x="518">0.00</tspan><tspan x="529.61">0.00</tspan><tspan x="541.21">0.00</tspan><tspan x="552.83">0.00</tspan><tspan x="564.43">0.00</tspan><tspan x="576.04">0.00</tspan><tspan x="587.65">0.00</tspan><tspan x="599.26">0.00</tspan><tspan x="610.88">0.00</tspan><tspan x="622.49">0.00</tspan><tspan x="634.1">0.00</tspan></text>
<text y="363.7"><tspan x="413.5">0.02</tspan><tspan x="425.12" fill="#f7fbff" stroke="#f7fbff">0.98</tspan><tspan x="436.72">0.00</tspan><tspan x="448.33">0.00</tspan><tspan x="459.94">0.00</tspan><tspan x="471.56">0.00</tspan><tspan x="483.16">0.00</tspan><tspan x="494.77">0.00</tspan><tspan x="506.38">0.00</tspan><tspan x="518">0.00</tspan><tspan x="529.61">0.00</tspan><tspan x="541.21">0.00</tspan><tspan x="552.83">0.00</tspan><tspan x="564.43">0.00</tspan><tspan x="576.04">0.00</tspan><tspan x="587.65">0.00</tspan><tspan x="599.26">0.00</tspan><tspan x="610.88">0.00</tspan><tspan x="622.49">0.00</tspan><tspan x="634.1">0.00</tspan></text>
<text y="375.05"><tspan x="413.5">0.01</tspan><tspan x="425.12">0.00</tspan><tspan x="436.72" fill="#f7fbff" stroke="#f7fbff">0.90</tspan><tspan x="448.33">0.01</tspan><tspan x="459.94">0.05</tspan><tspan x="471.56">0.00</tspan><tspan x="483.16">0.00</tspan><tspan x="494.77">0.00</tspan><tspan x="506.38">0.00</tspan><tspan x="518">0.00</tspan><tspan x="529.61">0.00</tspan><tspan x="541.21">0.00</tspan><tspan x="552.83">0.01</tspan><tspan x="564.43">0.00</tspan><tspan x="576.04">0.00</tspan><tspan x="587.65">0.00</tspan><tspan x="599.26">0.00</tspan><tspan x="610.88">0.00</tspan><tspan x="622.49">0.00</tspan><tspan x="634.1">0.00</tspan></text>
<text y="386.41"><tspan x="413.5">0.00</tspan><tspan x="425.12">0.00</tspan><tspan x="436.72">0.01</tspan><tspan x="448.33" fill="#f7fbff" stroke="#f7fbff">0.92</tspan><tspan x="459.94">0.00</tspan><tspan x="471.56">0.05</tspan><tspan x="483.16">0.00</tspan><tspan x="494.77">0.01</tspan><tspan x="506.38">0.00</tspan><tspan x="518">0.00</tspan><tspan x="529.61">0.00</tspan><tspan x="541.21">0.00</tspan><tspan x="552.83">0.00</tspan><tspan x="564.43">0.01</tspan><tspan x="576.04">0.00</tspan><tspan x="587.65">0.00</tspan><tspan x="599.26">0.00</tspan><tspan x="610.88">0.00</tspan><tspan x="622.49">0.00</tspan><tspan x="634.1">0.00</tspan></text>
<text y="397.76"><tspan x="413.5">0.00</tspan><tspan x="425.12">0.00</tspan><tspan x="436.72">0.01</tspan><tspan x="448.33">0.00</tspan><tspan x="459.94" fill="#f7fbff" stroke="#f7fbff">0.98</tspan><tspan x="471.56">0.01</tspan><tspan x="483.16">0.00</tspan><tspan x="494.77">0.00</tspan><tspan x="506.38">0.00</tspan><tspan x="518">0.00</tspan><tspan x="529.61">0.00</tspan><tspan x="541.21">0.00</tspan><tspan x="552.83">0.00</tspan><tspan x="564.43">0.00</tspan><tspan x="576.04">0.00</tspan><tspan x="587.65">0.00</tspan><tspan x="599.26">0.00</tspan><tspan x="610.88">0.00</tspan><tspan x="622.49">0.00</tspan><tspan x="634.1">0.00</tspan></text>
<text y="409.12"><tspan x="413.5">0.00</tspan><tspan x="425.12">0.00</tspan><tspan x="436.72">0.00</tspan><tspan x="448.33">0.01</tspan><tspan x="459.94">0.01</tspan><tspan x="471.56" fill="#f7fbff" stroke="#f7fbff">0.97</tspan><tspan x="483.16">0.00</tspan><tspan x="494.77">0.00</tspan><tspan x="506.38">0.00</tspan><tspan x="518">0.00</tspan><tspan x="529.61">0.00</tspan><tspan x="541.21">0.00</tspan><tspan x="552.83">0.00</tspan><tspan x="564.43">0.00</tspan><tspan x="576.04">0.00</tspan><tspan x="587.65">0.00</tspan><tspan x="599.26">0.00</tspan><tspan x="610.88">0.00</tspan><tspan x="622.49">0.00</tspan><tspan x="634.1">0.00</tspan></text>
<text y="420.47"><tspan x="413.5">0.01</tspan><tspan x="425.12">0.00</tspan><tspan x="436.72">0.01</tspan><tspan x="448.33">0.00</tspan><tspan x="459.94">0.01</tspan><tspan x="471.56">0.01</tspan><tspan x="483.16" fill="#f7fbff" stroke="#f7fbff">0.87</tspan><tspan x="494.77">0.05</tspan><tspan x="506.38">0.02</tspan><tspan x="518">0.02</tspan><tspan x="529.61">0.00</tspan><tspan x="541.21">0.00</tspan><tspan x="552.83">0.01</tspan><tspan x="564.43">0.01</tspan><tspan x="576.04">0.00</tspan><tspan x="587.65">0.00</tspan><tspan x="599.26">0.00</tspan><tspan x="610.88">0.00</tspan><tspan x="622.49">0.00</tspan><tspan x="634.1">0.00</tspan></text>
<text y="431.83"><tspan x="413.5">0.00</tspan><tspan x="425.12">0.00</tspan><tspan x="436.72">0.01</tspan><tspan x="448.33">0.01</tspan><tspan x="459.94">0.01</tspan><tspan x="471.56">0.01</tspan><tspan x="483.16">0.09</tspan><tspan x="494.77" fill="#f7fbff" stroke="#f7fbff">0.82</tspan><tspan x="506.38">0.02</tspan><tspan x="518">0.02</tspan><tspan x="529.61">0.00</tspan><tspan x="541.21">0.00</tspan><tspan x="552.83">0.00</tspan><tspan x="564.43">0.01</tspan><tspan x="576.04">0.00</tspan><tspan x="587.65">0.00</tspan><tspan x="599.26">0.00</tspan><tspan x="610.88">0.00</tspan><tspan x="622.49">0.00</tspan><tspan x="634.1">0.00</tspan></text>
<text y="443.18"><tspan x="413.5">0.00</tspan><tspan x="425.12">0.00</tspan><tspan x="436.72">0.00</tspan><tspan x="448.33">0.00</tspan><tspan x="459.94">0.01</tspan><tspan x="471.56">0.01</tspan><tspan x="483.16">0.01</tspan><tspan x="494.77">0.01</tspan><tspan x="506.38" fill="#f7fbff" stroke="#f7fbff">0.90</tspan><tspan x="518">0.07</tspan><tspan x="529.61">0.00</tspan><tspan x="541.21">0.00</tspan><tspan x="552.83">0.00</tspan><tspan x="564.43">0.00</tspan><tspan x="576.04">0.00</tspan><tspan x="587.65">0.00</tspan><tspan x="599.26">0.00</tspan><tspan x="610.88">0.00</tspan><tspan x="622.49">0.00</tspan><tspan x="634.1">0.00</tspan></text>
<text y="454.54"><tspan x="413.5">0.00</tspan><tspan x="425.12">0.00</tspan><tspan x="436.72">0.00</tspan><tspan x="448.33">0.00</tspan><tspan x="459.94">0.01</tspan><tspan x="471.56">0.01</tspan><tspan x="483.16">0.01</tspan><tspan x="494.77">0.01</tspan><tspan x="506.38">0.06</tspan><tspan x="518" fill="#f7fbff" stroke="#f7fbff">0.88</tspan><tspan x="529.61">0.00</tspan><tspan x="541.21">0.00</tspan><tspan x="552.83">0.00</tspan><tspan x="564.43">0.00</tspan><tspan x="576.04">0.00</tspan><tspan x="587.65">0.00</tspan><tspan x="599.26">0.00</tspan><tspan x="610.88">0.00</tspan><tspan x="622.49">0.00</tspan><tspan x="634.1">0.00</tspan></text>
<text y="465.89"><tspan x="413.5">0.00</tspan><tspan x="425.12">0.00</tspan><tspan x="436.72">0.00</tspan><tspan x="448.33">0.00</tspan><tspan x="459.94">0.00</tspan><tspan x="471.56">0.00</tspan><tspan x="483.16">0.00</tspan><tspan x="494.77">0.00</tspan><tspan x="506.38">0.00</tspan><tspan x="518">0.00</tspan><tspan x="529.61" fill="#f7fbff" stroke="#f7fbff">0.95</tspan><tspan x="541.21">0.02</tspan><tspan x="552.83">0.00</tspan><tspan x="564.43">0.00</tspan><tspan x="576.04">0.00</tspan><tspan x="587.65">0.00</tspan><tspan x="599.26">0.02</tspan><tspan x="610.88">0.00</tspan><tspan x="622.49">0.01</tspan><tspan x="634.1">0.00</tspan></text>
<text y="477.25"><tspan x="413.5">0.00</tspan><tspan x="425.12">0.00</tspan><tspan x="436.72">0.00</tspan><tspan x="448.33">0.00</tspan><tspan x="459.94">0.00</tspan><tspan x="471.56">0.00</tspan><tspan x="483.16">0.00</tspan><tspan x="494.77">0.00</tspan><tspan x="506.38">0.00</tspan><tspan x="518">0.00</tspan><tspan x="529.61">0.01</tspan><tspan x="541.21" fill="#f7fbff" stroke="#f7fbff">0.94</tspan><tspan x="552.83">0.00</tspan><tspan x="564.43">0.00</tspan><tspan x="576.04">0.00</tspan><tspan x="587.65">0.00</tspan><tspan x="599.26">0.00</tspan><tspan x="610.88">0.02</tspan><tspan x="622.49">0.01</tspan><tspan x="634.1">0.00</tspan></text>
<text y="488.6"><tspan x="413.5">0.00</tspan><tspan x="425.12">0.00</tspan><tspan x="436.72">0.00</tspan><tspan x="448.33">0.00</tspan><tspan x="459.94">0.01</tspan><tspan x="471.56">0.01</tspan><tspan x="483.16">0.00</tspan><tspan x="494.77">0.00</tspan><tspan x="506.38">0.00</tspan><tspan x="518">0.00</tspan><tspan x="529.61">0.00</tspan><tspan x="541.21">0.00</tspan><tspan x="552.83" fill="#f7fbff" stroke="#f7fbff">0.91</tspan><tspan x="564.43">0.03</tspan><tspan x="576.04">0.02</tspan><tspan x="587.65">0.00</tspan><tspan x="599.26">0.01</tspan><tspan x="610.88">0.00</tspan><tspan x="622.49">0.00</tspan><tspan x="634.1">0.00</tspan></text>
<text y="499.96"><tspan x="413.5">0.00</tspan><tspan x="425.12">0.00</tspan><tspan x="436.72">0.00</tspan><tspan x="448.33">0.01</tspan><tspan x="459.94">0.00</tspan><tspan x="471.56">0.02</tspan><tspan x="483.16">0.00</tspan><tspan x="494.77">0.00</tspan><tspan x="506.38">0.00</tspan><tspan x="518">0.00</tspan><tspan x="529.61">0.00</tspan><tspan x="541.21">0.00</tspan><tspan x="552.83">0.01</tspan><tspan x="564.43" fill="#f7fbff" stroke="#f7fbff">0.94</tspan><tspan x="576.04">0.00</tspan><tspan x="587.65">0.01</tspan><tspan x="599.26">0.00</tspan><tspan x="610.88">0.01</tspan><tspan x="622.49">0.00</tspan><tspan x="634.1">0.00</tspan></text>
<text y="511.31"><tspan x="413.5">0.00</tspan><tspan x="425.12">0.00</tspan><tspan x="436.72">0.01</tspan><tspan x="448.33">0.00</tspan><tspan x="459.94">0.02</tspan><tspan x="471.56">0.00</tspan><tspan x="483.16">0.00</tspan><tspan x="494.77">0.00</tspan><tspan x="506.38">0.00</tspan><tspan x="518">0.00</tspan><tspan x="529.61">0.00</tspan><tspan x="541.21">0.00</tspan><tspan x="552.83">0.05</tspan><tspan x="564.43">0.01</tspan><tspan x="576.04" fill="#f7fbff" stroke="#f7fbff">0.87</tspan><tspan x="587.65">0.00</tspan><tspan x="599.26">0.03</tspan><tspan x="610.88">0.01</tspan><tspan x="622.49">0.00</tspan><tspan x="634.1">0.00</tspan></text>
<text y="522.67"><tspan x="413.5">0.00</tspan><tspan x="425.12">0.00</tspan><tspan x="436.72">0.00</tspan><tspan x="448.33">0.00</tspan><tspan x="459.94">0.00</tspan><tspan x="471.56">0.01</tspan><tspan x="483.16">0.00</tspan><tspan x="494.77">0.00</tspan><tspan x="506.38">0.00</tspan><tspan x="518">0.00</tspan><tspan x="529.61">0.00</tspan><tspan x="541.21">0.00</tspan><tspan x="552.83">0.00</tspan><tspan x="564.43">0.06</tspan><tspan x="576.04">0.01</tspan><tspan x="587.65" fill="#f7fbff" stroke="#f7fbff">0.89</tspan><tspan x="599.26">0.01</tspan><tspan x="610.88">0.02</tspan><tspan x="622.49">0.00</tspan><tspan x="634.1">0.00</tspan></text>
<text y="534.02"><tspan x="413.5">0.00</tspan><tspan x="425.12">0.00</tspan><tspan x="436.72">0.00</tspan><tspan x="448.33">0.00</tspan><tspan x="459.94">0.00</tspan><tspan x="471.56">0.00</tspan><tspan x="483.16">0.00</tspan><tspan x="494.77">0.00</tspan><tspan x="506.38">0.00</tspan><tspan x="518">0.00</tspan><tspan x="529.61">0.01</tspan><tspan x="541.21">0.00</tspan><tspan x="552.83">0.01</tspan><tspan x="564.43">0.01</tspan><tspan x="576.04">0.00</tspan><tspan x="587.65">0.00</tspan><tspan x="599.26" fill="#f7fbff" stroke="#f7fbff">0.94</tspan><tspan x="610.88">0.02</tspan><tspan x="622.49">0.00</tspan><tspan x="634.1">0.00</tspan></text>
<text y="545.38"><tspan x="413.5">0.00</tspan><tspan x="425.12">0.00</tspan><tspan x="436.72">0.00</tspan><tspan x="448.33">0.00</tspan><tspan x="459.94">0.00</tspan><tspan x="471.56">0.00</tspan><tspan x="483.16">0.00</tspan><tspan x="494.77">0.00</tspan><tspan x="506.38">0.00</tspan><tspan x="518">0.00</tspan><tspan x="529.61">0.00</tspan><tspan x="541.21">0.01</tspan><tspan x="552.83">0.00</tspan><tspan x="564.43">0.02</tspan><tspan x="576.04">0.00</tspan><tspan x="587.65">0.02</tspan><tspan x="599.26">0.03</tspan><tspan x="610.88" fill="#f7fbff" stroke="#f7fbff">0.90</tspan><tspan x="622.49">0.00</tspan><tspan x="634.1">0.00</tspan></text>
<text y="556.73"><tspan x="413.5">0.00</tspan><tspan x="425.12">0.00</tspan><tspan x="436.72">0.00</tspan><tspan x="448.33">0.00</tspan><tspan x="459.94">0.00</tspan><tspan x="471.56">0.00</tspan><tspan x="483.16">0.00</tspan><tspan x="494.77">0.00</tspan><tspan x="506.38">0.00</tspan><tspan x="518">0.00</tspan><tspan x="529.61">0.01</tspan><tspan x="541.21">0.02</tspan><tspan x="552.83">0.01</tspan><tspan x="564.43">0.02</tspan><tspan x="576.04">0.00</tspan><tspan x="587.65">0.00</tspan><tspan x="599.26">0.01</tspan><tspan x="610.88">0.00</tspan><tspan x="622.49" fill="#f7fbff" stroke="#f7fbff">0.93</tspan><tspan x="634.1">0.00</tspan></text>
<text y="568.09"><tspan x="413.5">0.00</tspan><tspan x="425.12">0.00</tspan><tspan x="436.72">0.00</tspan><tspan x="448.33">0.00</tspan><tspan x="459.94">0.00</tspan><tspan x="471.56">0.00</tspan><tspan x="483.16">0.41</tspan><tspan x="494.77">0.07</tspan><tspan x="506.38">0.11</tspan><tspan x="518">0.04</tspan><tspan x="529.61">0.00</tspan><tspan x="541.21">0.00</tspan><tspan x="552.83">0.00</tspan><tspan x="564.43">0.00</tspan><tspan x="576.04">0.00</tspan><tspan x="587.65">0.00</tspan><tspan x="599.26">0.00</tspan><tspan x="610.88">0.00</tspan><tspan x="622.49">0.00</tspan><tspan x="634.1">0.37</tspan></text>
</g>
<g font-size="5.5" fill="#111" stroke="#111" stroke-width="0.08">
<text x="398.4" y="352.76" text-anchor="middle">A1</text>
<text x="398.4" y="364.11" text-anchor="middle">A2</text>
<text x="398.4" y="375.47" text-anchor="middle">A3</text>
<text x="398.4" y="386.82" text-anchor="middle">A4</text>
<text x="398.4" y="398.18" text-anchor="middle">A7</text>
<text x="398.4" y="409.53" text-anchor="middle">A8</text>
<text x="398.4" y="420.89" text-anchor="middle">A5</text>
<text x="398.4" y="432.24" text-anchor="middle">A6</text>
<text x="398.4" y="443.6" text-anchor="middle">A9</text>
<text x="398.4" y="454.95" text-anchor="middle">A10</text>
<text x="398.4" y="466.31" text-anchor="middle">P1</text>
<text x="398.4" y="477.66" text-anchor="middle">P2</text>
<text x="398.4" y="489.02" text-anchor="middle">P3</text>
<text x="398.4" y="500.37" text-anchor="middle">P4</text>
<text x="398.4" y="511.73" text-anchor="middle">P5</text>
<text x="398.4" y="523.08" text-anchor="middle">P6</text>
<text x="398.4" y="534.44" text-anchor="middle">P7</text>
<text x="398.4" y="545.79" text-anchor="middle">P8</text>
<text x="398.4" y="557.15" text-anchor="middle">P0</text>
<text x="398.4" y="568.5" text-anchor="middle">A0</text>
<text x="413.5" y="584.1" text-anchor="middle">A1</text>
<text x="425.12" y="584.1" text-anchor="middle">A2</text>
<text x="436.72" y="584.1" text-anchor="middle">A3</text>
<text x="448.33" y="584.1" text-anchor="middle">A4</text>
<text x="459.94" y="584.1" text-anchor="middle">A7</text>
<text x="471.56" y="584.1" text-anchor="middle">A8</text>
<text x="483.16" y="584.1" text-anchor="middle">A5</text>
<text x="494.77" y="584.1" text-anchor="middle">A6</text>
<text x="506.38" y="584.1" text-anchor="middle">A9</text>
<text x="518" y="584.1" text-anchor="middle">A10</text>
<text x="529.61" y="584.1" text-anchor="middle">P1</text>
<text x="541.21" y="584.1" text-anchor="middle">P2</text>
<text x="552.83" y="584.1" text-anchor="middle">P3</text>
<text x="564.43" y="584.1" text-anchor="middle">P4</text>
<text x="576.04" y="584.1" text-anchor="middle">P5</text>
<text x="587.65" y="584.1" text-anchor="middle">P6</text>
<text x="599.26" y="584.1" text-anchor="middle">P7</text>
<text x="610.88" y="584.1" text-anchor="middle">P8</text>
<text x="622.49" y="584.1" text-anchor="middle">P0</text>
<text x="634.1" y="584.1" text-anchor="middle">A0</text>
</g>
<text x="523.8" y="598.3" font-size="5.75" text-anchor="middle" fill="#111" stroke="#111" stroke-width="0.08">Predicted label</text>
<text transform="translate(380.1 456.65) rotate(-90)" font-size="5.65" text-anchor="middle" fill="#111" stroke="#111" stroke-width="0.08">True label</text>
<text x="523.8" y="339.3" font-size="9.32" text-anchor="middle" fill="#000" stroke="#000" stroke-width="0.1">Stroke group macrovessel chunk prediction</text>
<text x="358.5" y="339.3" font-size="15.5" fill="#111">D</text>
<rect x="654.2" y="320.2" width="14.6" height="277" fill="url(#blues)" stroke="#333" stroke-width="0.7"/>
<g font-size="4.7" fill="#222">
<line x1="668.8" x2="670.8" y1="597.2" y2="597.2" stroke="#333" stroke-width="0.5"/>
<text x="672.6" y="598.89">0.0</text>
<line x1="668.8" x2="670.8" y1="541.8" y2="541.8" stroke="#333" stroke-width="0.5"/>
<text x="672.6" y="543.49">0.2</text>
<line x1="668.8" x2="670.8" y1="486.4" y2="486.4" stroke="#333" stroke-width="0.5"/>
<text x="672.6" y="488.09">0.4</text>
<line x1="668.8" x2="670.8" y1="431" y2="431" stroke="#333" stroke-width="0.5"/>
<text x="672.6" y="432.69">0.6</text>
<line x1="668.8" x2="670.8" y1="375.6" y2="375.6" stroke="#333" stroke-width="0.5"/>
<text x="672.6" y="377.29">0.8</text>
</g>
</g>
</svg>
</body></html>
